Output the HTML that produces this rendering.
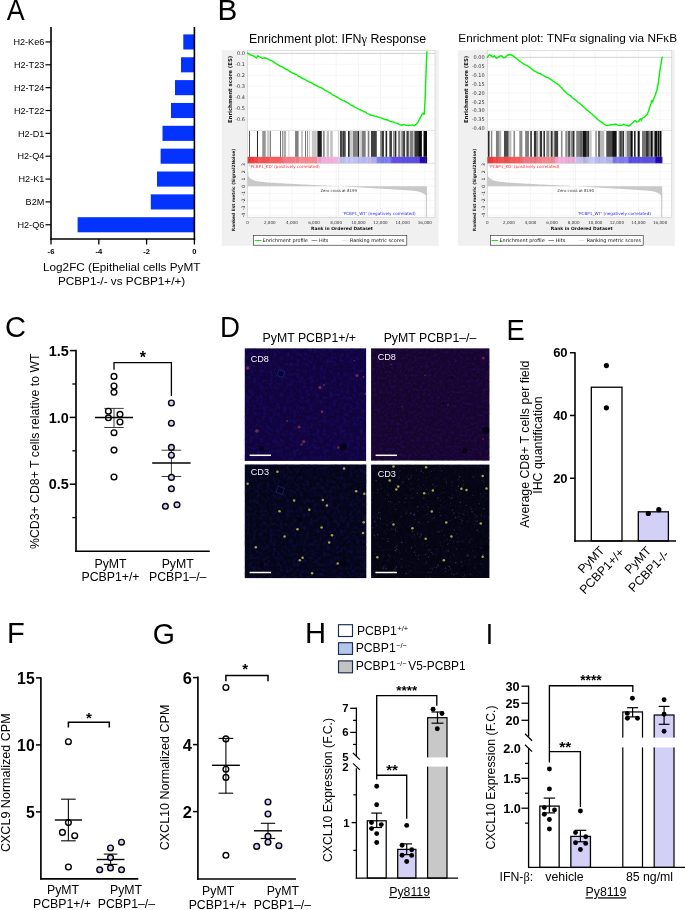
<!DOCTYPE html>
<html lang="en"><head><meta charset="utf-8"><title>Figure</title>
<style>html,body{margin:0;padding:0;background:#fff}svg{display:block}text{font-family:"Liberation Sans", Arial, Helvetica, sans-serif}</style></head><body>
<svg width="685" height="910" viewBox="0 0 685 910">
<rect x="0.00" y="0.00" width="685.00" height="910.00" fill="#fff" stroke="none" stroke-width="1" />
<text transform="translate(6.85,20.40) scale(0.913,1)" font-size="29.4">A</text>
<text transform="translate(217.46,20.20) scale(1.01,1)" font-size="29.4">B</text>
<text transform="translate(4.92,337.40) scale(0.989,1)" font-size="29.4">C</text>
<text transform="translate(219.93,337.00) scale(0.942,1)" font-size="29.4">D</text>
<text transform="translate(506.56,340.40) scale(0.929,1)" font-size="29.4">E</text>
<text transform="translate(6.96,643.30) scale(0.991,1)" font-size="29.4">F</text>
<text transform="translate(152.68,643.50) scale(0.969,1)" font-size="29.4">G</text>
<text transform="translate(304.91,643.30) scale(0.992,1)" font-size="29.4">H</text>
<text transform="translate(485.85,643.60) scale(0.905,1)" font-size="29.4">I</text>
<rect x="183.30" y="34.40" width="11.10" height="15.10" fill="#0433ff" stroke="none" stroke-width="1" />
<line x1="45.50" y1="41.95" x2="51.00" y2="41.95" stroke="#000" stroke-width="1.2" />
<text x="44.30" y="45.15" font-size="9.1" text-anchor="end" font-weight="normal" fill="#000" >H2-Ke6</text>
<rect x="181.00" y="57.25" width="13.40" height="15.10" fill="#0433ff" stroke="none" stroke-width="1" />
<line x1="45.50" y1="64.80" x2="51.00" y2="64.80" stroke="#000" stroke-width="1.2" />
<text x="44.30" y="68.00" font-size="9.1" text-anchor="end" font-weight="normal" fill="#000" >H2-T23</text>
<rect x="175.00" y="80.10" width="19.40" height="15.10" fill="#0433ff" stroke="none" stroke-width="1" />
<line x1="45.50" y1="87.65" x2="51.00" y2="87.65" stroke="#000" stroke-width="1.2" />
<text x="44.30" y="90.85" font-size="9.1" text-anchor="end" font-weight="normal" fill="#000" >H2-T24</text>
<rect x="171.00" y="102.95" width="23.40" height="15.10" fill="#0433ff" stroke="none" stroke-width="1" />
<line x1="45.50" y1="110.50" x2="51.00" y2="110.50" stroke="#000" stroke-width="1.2" />
<text x="44.30" y="113.70" font-size="9.1" text-anchor="end" font-weight="normal" fill="#000" >H2-T22</text>
<rect x="162.50" y="125.80" width="31.90" height="15.10" fill="#0433ff" stroke="none" stroke-width="1" />
<line x1="45.50" y1="133.35" x2="51.00" y2="133.35" stroke="#000" stroke-width="1.2" />
<text x="44.30" y="136.55" font-size="9.1" text-anchor="end" font-weight="normal" fill="#000" >H2-D1</text>
<rect x="160.60" y="148.65" width="33.80" height="15.10" fill="#0433ff" stroke="none" stroke-width="1" />
<line x1="45.50" y1="156.20" x2="51.00" y2="156.20" stroke="#000" stroke-width="1.2" />
<text x="44.30" y="159.40" font-size="9.1" text-anchor="end" font-weight="normal" fill="#000" >H2-Q4</text>
<rect x="157.00" y="171.50" width="37.40" height="15.10" fill="#0433ff" stroke="none" stroke-width="1" />
<line x1="45.50" y1="179.05" x2="51.00" y2="179.05" stroke="#000" stroke-width="1.2" />
<text x="44.30" y="182.25" font-size="9.1" text-anchor="end" font-weight="normal" fill="#000" >H2-K1</text>
<rect x="150.80" y="194.35" width="43.60" height="15.10" fill="#0433ff" stroke="none" stroke-width="1" />
<line x1="45.50" y1="201.90" x2="51.00" y2="201.90" stroke="#000" stroke-width="1.2" />
<text x="44.30" y="205.10" font-size="9.1" text-anchor="end" font-weight="normal" fill="#000" >B2M</text>
<rect x="77.60" y="217.20" width="116.80" height="15.10" fill="#0433ff" stroke="none" stroke-width="1" />
<line x1="45.50" y1="224.75" x2="51.00" y2="224.75" stroke="#000" stroke-width="1.2" />
<text x="44.30" y="227.95" font-size="9.1" text-anchor="end" font-weight="normal" fill="#000" >H2-Q6</text>
<line x1="51.00" y1="27.00" x2="51.00" y2="239.70" stroke="#000" stroke-width="1.6" />
<line x1="194.40" y1="27.00" x2="194.40" y2="239.70" stroke="#000" stroke-width="1.6" />
<line x1="50.20" y1="239.00" x2="195.20" y2="239.00" stroke="#000" stroke-width="1.6" />
<line x1="51.00" y1="239.00" x2="51.00" y2="244.50" stroke="#000" stroke-width="1.3" />
<text x="51.00" y="253.80" font-size="7.6" text-anchor="middle" font-weight="bold" fill="#000" >-6</text>
<line x1="98.80" y1="239.00" x2="98.80" y2="244.50" stroke="#000" stroke-width="1.3" />
<text x="98.80" y="253.80" font-size="7.6" text-anchor="middle" font-weight="bold" fill="#000" >-4</text>
<line x1="146.60" y1="239.00" x2="146.60" y2="244.50" stroke="#000" stroke-width="1.3" />
<text x="146.60" y="253.80" font-size="7.6" text-anchor="middle" font-weight="bold" fill="#000" >-2</text>
<line x1="194.40" y1="239.00" x2="194.40" y2="244.50" stroke="#000" stroke-width="1.3" />
<text x="194.40" y="253.80" font-size="7.6" text-anchor="middle" font-weight="bold" fill="#000" >0</text>
<text x="121.70" y="271.20" font-size="11.75" text-anchor="middle" font-weight="normal" fill="#000" >Log2FC (Epithelial cells PyMT</text>
<text x="121.60" y="284.80" font-size="11.75" text-anchor="middle" font-weight="normal" fill="#000" >PCBP1-/- vs PCBP1+/+)</text>
<text x="249.00" y="43.00" font-size="12.35" text-anchor="start" font-weight="normal" fill="#000" >Enrichment plot: IFN<tspan style='font-family:"Liberation Serif","DejaVu Serif",serif'>γ</tspan> Response</text>
<rect x="221.80" y="50.20" width="216.80" height="195.60" fill="#f0f0f0" stroke="none" stroke-width="1" />
<rect x="247.60" y="50.40" width="187.40" height="166.80" fill="#fff" stroke="#c4c4c4" stroke-width="0.5" />
<line x1="247.60" y1="50.40" x2="247.60" y2="130.40" stroke="#d6d6d6" stroke-width="0.4" stroke-dasharray="0.8 0.8"/>
<line x1="247.60" y1="163.40" x2="247.60" y2="217.20" stroke="#d6d6d6" stroke-width="0.4" stroke-dasharray="0.8 0.8"/>
<line x1="269.75" y1="50.40" x2="269.75" y2="130.40" stroke="#d6d6d6" stroke-width="0.4" stroke-dasharray="0.8 0.8"/>
<line x1="269.75" y1="163.40" x2="269.75" y2="217.20" stroke="#d6d6d6" stroke-width="0.4" stroke-dasharray="0.8 0.8"/>
<line x1="291.90" y1="50.40" x2="291.90" y2="130.40" stroke="#d6d6d6" stroke-width="0.4" stroke-dasharray="0.8 0.8"/>
<line x1="291.90" y1="163.40" x2="291.90" y2="217.20" stroke="#d6d6d6" stroke-width="0.4" stroke-dasharray="0.8 0.8"/>
<line x1="314.05" y1="50.40" x2="314.05" y2="130.40" stroke="#d6d6d6" stroke-width="0.4" stroke-dasharray="0.8 0.8"/>
<line x1="314.05" y1="163.40" x2="314.05" y2="217.20" stroke="#d6d6d6" stroke-width="0.4" stroke-dasharray="0.8 0.8"/>
<line x1="336.20" y1="50.40" x2="336.20" y2="130.40" stroke="#d6d6d6" stroke-width="0.4" stroke-dasharray="0.8 0.8"/>
<line x1="336.20" y1="163.40" x2="336.20" y2="217.20" stroke="#d6d6d6" stroke-width="0.4" stroke-dasharray="0.8 0.8"/>
<line x1="358.35" y1="50.40" x2="358.35" y2="130.40" stroke="#d6d6d6" stroke-width="0.4" stroke-dasharray="0.8 0.8"/>
<line x1="358.35" y1="163.40" x2="358.35" y2="217.20" stroke="#d6d6d6" stroke-width="0.4" stroke-dasharray="0.8 0.8"/>
<line x1="380.50" y1="50.40" x2="380.50" y2="130.40" stroke="#d6d6d6" stroke-width="0.4" stroke-dasharray="0.8 0.8"/>
<line x1="380.50" y1="163.40" x2="380.50" y2="217.20" stroke="#d6d6d6" stroke-width="0.4" stroke-dasharray="0.8 0.8"/>
<line x1="402.65" y1="50.40" x2="402.65" y2="130.40" stroke="#d6d6d6" stroke-width="0.4" stroke-dasharray="0.8 0.8"/>
<line x1="402.65" y1="163.40" x2="402.65" y2="217.20" stroke="#d6d6d6" stroke-width="0.4" stroke-dasharray="0.8 0.8"/>
<line x1="424.80" y1="50.40" x2="424.80" y2="130.40" stroke="#d6d6d6" stroke-width="0.4" stroke-dasharray="0.8 0.8"/>
<line x1="424.80" y1="163.40" x2="424.80" y2="217.20" stroke="#d6d6d6" stroke-width="0.4" stroke-dasharray="0.8 0.8"/>
<line x1="247.60" y1="53.40" x2="435.00" y2="53.40" stroke="#b0b0b0" stroke-width="0.6" />
<text x="245.00" y="55.10" font-size="5.0" text-anchor="end" font-weight="normal" fill="#333" style='font-family:"DejaVu Sans", "Liberation Sans", sans-serif' >0.0</text>
<line x1="247.60" y1="64.35" x2="435.00" y2="64.35" stroke="#d6d6d6" stroke-width="0.4" stroke-dasharray="0.8 0.8"/>
<text x="245.00" y="66.05" font-size="5.0" text-anchor="end" font-weight="normal" fill="#333" style='font-family:"DejaVu Sans", "Liberation Sans", sans-serif' >-0.1</text>
<line x1="247.60" y1="75.30" x2="435.00" y2="75.30" stroke="#d6d6d6" stroke-width="0.4" stroke-dasharray="0.8 0.8"/>
<text x="245.00" y="77.00" font-size="5.0" text-anchor="end" font-weight="normal" fill="#333" style='font-family:"DejaVu Sans", "Liberation Sans", sans-serif' >-0.2</text>
<line x1="247.60" y1="86.25" x2="435.00" y2="86.25" stroke="#d6d6d6" stroke-width="0.4" stroke-dasharray="0.8 0.8"/>
<text x="245.00" y="87.95" font-size="5.0" text-anchor="end" font-weight="normal" fill="#333" style='font-family:"DejaVu Sans", "Liberation Sans", sans-serif' >-0.3</text>
<line x1="247.60" y1="97.20" x2="435.00" y2="97.20" stroke="#d6d6d6" stroke-width="0.4" stroke-dasharray="0.8 0.8"/>
<text x="245.00" y="98.90" font-size="5.0" text-anchor="end" font-weight="normal" fill="#333" style='font-family:"DejaVu Sans", "Liberation Sans", sans-serif' >-0.4</text>
<line x1="247.60" y1="108.15" x2="435.00" y2="108.15" stroke="#d6d6d6" stroke-width="0.4" stroke-dasharray="0.8 0.8"/>
<text x="245.00" y="109.85" font-size="5.0" text-anchor="end" font-weight="normal" fill="#333" style='font-family:"DejaVu Sans", "Liberation Sans", sans-serif' >-0.5</text>
<line x1="247.60" y1="119.10" x2="435.00" y2="119.10" stroke="#d6d6d6" stroke-width="0.4" stroke-dasharray="0.8 0.8"/>
<text x="245.00" y="120.80" font-size="5.0" text-anchor="end" font-weight="normal" fill="#333" style='font-family:"DejaVu Sans", "Liberation Sans", sans-serif' >-0.6</text>
<text transform="translate(232.30,89.40) rotate(-90)" font-size="5.4" text-anchor="middle" fill="#111" font-weight="bold" style='font-family:"DejaVu Sans", "Liberation Sans", sans-serif'>Enrichment score (ES)</text>
<line x1="247.60" y1="130.40" x2="435.00" y2="130.40" stroke="#c4c4c4" stroke-width="0.5" />
<g>
<rect x="247.60" y="156.80" width="6.40" height="6.60" fill="#ee3c3c" stroke="none" stroke-width="1" />
<rect x="253.80" y="156.80" width="4.50" height="6.60" fill="#f24a4a" stroke="none" stroke-width="1" />
<rect x="258.10" y="156.80" width="12.60" height="6.60" fill="#f65555" stroke="none" stroke-width="1" />
<rect x="270.50" y="156.80" width="9.70" height="6.60" fill="#f85c5c" stroke="none" stroke-width="1" />
<rect x="280.00" y="156.80" width="3.90" height="6.60" fill="#f76c6c" stroke="none" stroke-width="1" />
<rect x="283.70" y="156.80" width="11.90" height="6.60" fill="#f87a8a" stroke="none" stroke-width="1" />
<rect x="295.40" y="156.80" width="3.80" height="6.60" fill="#f5828a" stroke="none" stroke-width="1" />
<rect x="299.00" y="156.80" width="18.50" height="6.60" fill="#f98c92" stroke="none" stroke-width="1" />
<rect x="317.30" y="156.80" width="21.30" height="6.60" fill="#f5b2de" stroke="none" stroke-width="1" />
<rect x="338.40" y="156.80" width="19.80" height="6.60" fill="#cacafb" stroke="none" stroke-width="1" />
<rect x="358.00" y="156.80" width="18.70" height="6.60" fill="#bebef9" stroke="none" stroke-width="1" />
<rect x="376.50" y="156.80" width="14.80" height="6.60" fill="#8282f8" stroke="none" stroke-width="1" />
<rect x="391.10" y="156.80" width="28.70" height="6.60" fill="#6152ee" stroke="none" stroke-width="1" />
<rect x="419.60" y="156.80" width="6.20" height="6.60" fill="#2a04c2" stroke="none" stroke-width="1" />
<rect x="425.60" y="156.80" width="1.50" height="6.60" fill="#1a0080" stroke="none" stroke-width="1" />
</g>
<g fill="#000">
<rect x="249.09" y="131.00" width="0.73" height="25.80" fill-opacity="0.9"/>
<rect x="249.09" y="156.80" width="0.73" height="6.60" fill-opacity="0.081"/>
<rect x="256.97" y="131.00" width="1.02" height="25.80" fill-opacity="0.85"/>
<rect x="256.97" y="156.80" width="1.02" height="6.60" fill-opacity="0.076"/>
<rect x="262.23" y="131.00" width="3.50" height="25.80" fill-opacity="0.42"/>
<rect x="262.23" y="156.80" width="3.50" height="6.60" fill-opacity="0.038"/>
<rect x="266.90" y="131.00" width="2.92" height="25.80" fill-opacity="0.2"/>
<rect x="266.90" y="156.80" width="2.92" height="6.60" fill-opacity="0.018"/>
<rect x="270.26" y="131.00" width="0.73" height="25.80" fill-opacity="0.7"/>
<rect x="270.26" y="156.80" width="0.73" height="6.60" fill-opacity="0.063"/>
<rect x="280.18" y="131.00" width="0.73" height="25.80" fill-opacity="0.8"/>
<rect x="280.18" y="156.80" width="0.73" height="6.60" fill-opacity="0.072"/>
<rect x="282.08" y="131.00" width="1.31" height="25.80" fill-opacity="0.45"/>
<rect x="282.08" y="156.80" width="1.31" height="6.60" fill-opacity="0.041"/>
<rect x="284.27" y="131.00" width="1.46" height="25.80" fill-opacity="0.45"/>
<rect x="284.27" y="156.80" width="1.46" height="6.60" fill-opacity="0.041"/>
<rect x="288.50" y="131.00" width="0.73" height="25.80" fill-opacity="0.25"/>
<rect x="288.50" y="156.80" width="0.73" height="6.60" fill-opacity="0.022"/>
<rect x="295.07" y="131.00" width="3.50" height="25.80" fill-opacity="0.5"/>
<rect x="295.07" y="156.80" width="3.50" height="6.60" fill-opacity="0.045"/>
<rect x="301.06" y="131.00" width="1.75" height="25.80" fill-opacity="0.25"/>
<rect x="301.06" y="156.80" width="1.75" height="6.60" fill-opacity="0.022"/>
<rect x="305.29" y="131.00" width="0.73" height="25.80" fill-opacity="0.75"/>
<rect x="305.29" y="156.80" width="0.73" height="6.60" fill-opacity="0.068"/>
<rect x="307.19" y="131.00" width="0.73" height="25.80" fill-opacity="0.6"/>
<rect x="307.19" y="156.80" width="0.73" height="6.60" fill-opacity="0.054"/>
<rect x="308.94" y="131.00" width="0.73" height="25.80" fill-opacity="0.3"/>
<rect x="308.94" y="156.80" width="0.73" height="6.60" fill-opacity="0.027"/>
<rect x="311.86" y="131.00" width="4.96" height="25.80" fill-opacity="0.22"/>
<rect x="311.86" y="156.80" width="4.96" height="6.60" fill-opacity="0.020"/>
<rect x="317.41" y="131.00" width="4.38" height="25.80" fill-opacity="0.88"/>
<rect x="317.41" y="156.80" width="4.38" height="6.60" fill-opacity="0.079"/>
<rect x="322.96" y="131.00" width="1.75" height="25.80" fill-opacity="0.45"/>
<rect x="322.96" y="156.80" width="1.75" height="6.60" fill-opacity="0.041"/>
<rect x="326.61" y="131.00" width="2.48" height="25.80" fill-opacity="0.25"/>
<rect x="326.61" y="156.80" width="2.48" height="6.60" fill-opacity="0.022"/>
<rect x="330.26" y="131.00" width="2.48" height="25.80" fill-opacity="0.25"/>
<rect x="330.26" y="156.80" width="2.48" height="6.60" fill-opacity="0.022"/>
<rect x="337.99" y="131.00" width="0.73" height="25.80" fill-opacity="0.25"/>
<rect x="337.99" y="156.80" width="0.73" height="6.60" fill-opacity="0.022"/>
<rect x="339.89" y="131.00" width="2.34" height="25.80" fill-opacity="0.45"/>
<rect x="339.89" y="156.80" width="2.34" height="6.60" fill-opacity="0.041"/>
<rect x="343.10" y="131.00" width="2.63" height="25.80" fill-opacity="0.7"/>
<rect x="343.10" y="156.80" width="2.63" height="6.60" fill-opacity="0.063"/>
<rect x="340.00" y="131.00" width="3.80" height="25.80" fill-opacity="0.5"/>
<rect x="340.00" y="156.80" width="3.80" height="6.60" fill-opacity="0.045"/>
<rect x="348.03" y="131.00" width="1.61" height="25.80" fill-opacity="0.85"/>
<rect x="348.03" y="156.80" width="1.61" height="6.60" fill-opacity="0.076"/>
<rect x="349.64" y="131.00" width="2.92" height="25.80" fill-opacity="0.2"/>
<rect x="349.64" y="156.80" width="2.92" height="6.60" fill-opacity="0.018"/>
<rect x="352.85" y="131.00" width="4.09" height="25.80" fill-opacity="0.5"/>
<rect x="352.85" y="156.80" width="4.09" height="6.60" fill-opacity="0.045"/>
<rect x="357.37" y="131.00" width="1.75" height="25.80" fill-opacity="0.85"/>
<rect x="357.37" y="156.80" width="1.75" height="6.60" fill-opacity="0.076"/>
<rect x="359.71" y="131.00" width="2.19" height="25.80" fill-opacity="0.18"/>
<rect x="359.71" y="156.80" width="2.19" height="6.60" fill-opacity="0.016"/>
<rect x="361.90" y="131.00" width="3.80" height="25.80" fill-opacity="0.5"/>
<rect x="361.90" y="156.80" width="3.80" height="6.60" fill-opacity="0.045"/>
<rect x="367.74" y="131.00" width="1.61" height="25.80" fill-opacity="0.5"/>
<rect x="367.74" y="156.80" width="1.61" height="6.60" fill-opacity="0.045"/>
<rect x="370.95" y="131.00" width="5.84" height="25.80" fill-opacity="0.75"/>
<rect x="370.95" y="156.80" width="5.84" height="6.60" fill-opacity="0.068"/>
<rect x="380.15" y="131.00" width="1.90" height="25.80" fill-opacity="0.5"/>
<rect x="380.15" y="156.80" width="1.90" height="6.60" fill-opacity="0.045"/>
<rect x="382.04" y="131.00" width="1.90" height="25.80" fill-opacity="0.8"/>
<rect x="382.04" y="156.80" width="1.90" height="6.60" fill-opacity="0.072"/>
<rect x="385.55" y="131.00" width="1.61" height="25.80" fill-opacity="0.85"/>
<rect x="385.55" y="156.80" width="1.61" height="6.60" fill-opacity="0.076"/>
<rect x="389.34" y="131.00" width="2.63" height="25.80" fill-opacity="0.75"/>
<rect x="389.34" y="156.80" width="2.63" height="6.60" fill-opacity="0.068"/>
<rect x="393.14" y="131.00" width="1.31" height="25.80" fill-opacity="0.5"/>
<rect x="393.14" y="156.80" width="1.31" height="6.60" fill-opacity="0.045"/>
<rect x="394.74" y="131.00" width="1.61" height="25.80" fill-opacity="0.85"/>
<rect x="394.74" y="156.80" width="1.61" height="6.60" fill-opacity="0.076"/>
<rect x="398.10" y="131.00" width="2.19" height="25.80" fill-opacity="0.5"/>
<rect x="398.10" y="156.80" width="2.19" height="6.60" fill-opacity="0.045"/>
<rect x="401.31" y="131.00" width="1.75" height="25.80" fill-opacity="0.5"/>
<rect x="401.31" y="156.80" width="1.75" height="6.60" fill-opacity="0.045"/>
<rect x="403.07" y="131.00" width="2.04" height="25.80" fill-opacity="0.75"/>
<rect x="403.07" y="156.80" width="2.04" height="6.60" fill-opacity="0.068"/>
<rect x="406.42" y="131.00" width="2.34" height="25.80" fill-opacity="0.75"/>
<rect x="406.42" y="156.80" width="2.34" height="6.60" fill-opacity="0.068"/>
<rect x="408.91" y="131.00" width="1.17" height="25.80" fill-opacity="0.2"/>
<rect x="408.91" y="156.80" width="1.17" height="6.60" fill-opacity="0.018"/>
<rect x="410.07" y="131.00" width="3.07" height="25.80" fill-opacity="0.5"/>
<rect x="410.07" y="156.80" width="3.07" height="6.60" fill-opacity="0.045"/>
<rect x="413.28" y="131.00" width="1.17" height="25.80" fill-opacity="0.25"/>
<rect x="413.28" y="156.80" width="1.17" height="6.60" fill-opacity="0.022"/>
<rect x="414.45" y="131.00" width="3.65" height="25.80" fill-opacity="0.8"/>
<rect x="414.45" y="156.80" width="3.65" height="6.60" fill-opacity="0.072"/>
<rect x="418.10" y="131.00" width="3.80" height="25.80" fill-opacity="0.95"/>
<rect x="418.10" y="156.80" width="3.80" height="6.60" fill-opacity="0.085"/>
<rect x="423.50" y="131.00" width="3.50" height="25.80" fill-opacity="0.97"/>
<rect x="423.50" y="156.80" width="3.50" height="6.60" fill-opacity="0.087"/>
</g>
<line x1="247.60" y1="163.40" x2="435.00" y2="163.40" stroke="#c4c4c4" stroke-width="0.5" />
<text transform="translate(245.20,164.45) rotate(-90)" font-size="4.5" text-anchor="middle" fill="#222" style='font-family:"DejaVu Sans", "Liberation Sans", sans-serif'>3</text>
<line x1="247.60" y1="171.70" x2="435.00" y2="171.70" stroke="#d6d6d6" stroke-width="0.4" stroke-dasharray="0.8 0.8"/>
<text transform="translate(245.20,171.70) rotate(-90)" font-size="4.5" text-anchor="middle" fill="#222" style='font-family:"DejaVu Sans", "Liberation Sans", sans-serif'>2</text>
<line x1="247.60" y1="178.95" x2="435.00" y2="178.95" stroke="#d6d6d6" stroke-width="0.4" stroke-dasharray="0.8 0.8"/>
<text transform="translate(245.20,178.95) rotate(-90)" font-size="4.5" text-anchor="middle" fill="#222" style='font-family:"DejaVu Sans", "Liberation Sans", sans-serif'>1</text>
<line x1="247.60" y1="186.20" x2="435.00" y2="186.20" stroke="#d6d6d6" stroke-width="0.4" stroke-dasharray="0.8 0.8"/>
<text transform="translate(245.20,186.20) rotate(-90)" font-size="4.5" text-anchor="middle" fill="#222" style='font-family:"DejaVu Sans", "Liberation Sans", sans-serif'>0</text>
<line x1="247.60" y1="193.45" x2="435.00" y2="193.45" stroke="#d6d6d6" stroke-width="0.4" stroke-dasharray="0.8 0.8"/>
<text transform="translate(245.20,193.45) rotate(-90)" font-size="4.5" text-anchor="middle" fill="#222" style='font-family:"DejaVu Sans", "Liberation Sans", sans-serif'>-1</text>
<line x1="247.60" y1="200.70" x2="435.00" y2="200.70" stroke="#d6d6d6" stroke-width="0.4" stroke-dasharray="0.8 0.8"/>
<text transform="translate(245.20,200.70) rotate(-90)" font-size="4.5" text-anchor="middle" fill="#222" style='font-family:"DejaVu Sans", "Liberation Sans", sans-serif'>-2</text>
<line x1="247.60" y1="207.95" x2="435.00" y2="207.95" stroke="#d6d6d6" stroke-width="0.4" stroke-dasharray="0.8 0.8"/>
<text transform="translate(245.20,207.95) rotate(-90)" font-size="4.5" text-anchor="middle" fill="#222" style='font-family:"DejaVu Sans", "Liberation Sans", sans-serif'>-3</text>
<line x1="247.60" y1="215.20" x2="435.00" y2="215.20" stroke="#d6d6d6" stroke-width="0.4" stroke-dasharray="0.8 0.8"/>
<text transform="translate(245.20,215.20) rotate(-90)" font-size="4.5" text-anchor="middle" fill="#222" style='font-family:"DejaVu Sans", "Liberation Sans", sans-serif'>-4</text>
<path d="M247.60,186.20 L247.60,175.32 L247.66,175.41 L247.80,175.62 L248.01,175.93 L248.30,176.31 L248.64,176.73 L249.04,177.19 L249.51,177.65 L250.02,178.12 L250.60,178.57 L251.22,179.00 L251.90,179.40 L252.63,179.77 L253.41,180.11 L254.24,180.41 L255.11,180.68 L256.04,180.92 L257.01,181.14 L258.03,181.33 L259.10,181.50 L260.21,181.66 L261.37,181.81 L262.57,181.94 L263.82,182.07 L265.11,182.19 L266.44,182.30 L267.82,182.41 L269.24,182.52 L270.71,182.63 L272.21,182.73 L273.76,182.84 L275.35,182.94 L276.98,183.04 L278.66,183.14 L280.37,183.25 L282.13,183.35 L283.92,183.45 L285.76,183.55 L287.64,183.66 L289.55,183.76 L291.51,183.87 L293.50,183.97 L295.54,184.08 L297.61,184.18 L299.73,184.29 L301.88,184.40 L304.07,184.51 L306.30,184.62 L308.56,184.73 L310.87,184.85 L313.21,184.96 L315.59,185.08 L318.01,185.20 L320.47,185.32 L322.96,185.44 L325.49,185.56 L328.06,185.68 L330.67,185.81 L333.31,185.94 L335.99,186.07 L338.70,186.20 L340.84,186.33 L342.95,186.45 L345.04,186.58 L347.09,186.70 L349.12,186.82 L351.12,186.94 L353.09,187.05 L355.03,187.17 L356.95,187.28 L358.83,187.39 L360.69,187.50 L362.52,187.61 L364.32,187.72 L366.10,187.82 L367.84,187.92 L369.56,188.03 L371.25,188.13 L372.92,188.23 L374.55,188.32 L376.16,188.42 L377.74,188.51 L379.29,188.60 L380.82,188.69 L382.32,188.78 L383.79,188.87 L385.24,188.95 L386.66,189.04 L388.05,189.12 L389.41,189.20 L390.75,189.28 L392.07,189.36 L393.35,189.43 L394.61,189.51 L395.84,189.58 L397.05,189.65 L398.23,189.73 L399.39,189.79 L400.52,189.86 L401.62,189.93 L402.70,190.00 L403.75,190.06 L404.78,190.13 L405.78,190.19 L406.75,190.26 L407.70,190.32 L408.63,190.39 L409.53,190.46 L410.41,190.52 L411.26,190.60 L412.09,190.67 L412.89,190.75 L413.67,190.83 L414.42,190.92 L415.15,191.02 L415.86,191.12 L416.54,191.22 L417.20,191.34 L417.83,191.46 L418.44,191.60 L419.03,191.74 L419.60,191.89 L420.14,192.05 L420.66,192.22 L421.16,192.40 L421.63,192.59 L422.08,192.79 L422.52,192.99 L422.92,193.20 L423.31,193.42 L423.68,193.64 L424.02,193.86 L424.34,194.09 L424.65,194.31 L424.93,194.53 L425.19,194.76 L425.43,194.98 L425.65,195.23 L425.85,195.52 L426.03,195.93 L426.20,196.54 L426.34,197.47 L426.47,198.88 L426.58,200.86 L426.67,203.43 L426.75,206.46 L426.81,209.67 L426.85,212.64 L426.88,214.98 L426.90,216.39 L426.90,216.79 L426.90,186.20 Z" fill="#c8c8c8"/>
<rect x="425.90" y="192.72" width="1.00" height="24.47" fill="#c8c8c8" stroke="none" stroke-width="1" />
<rect x="247.60" y="172.42" width="0.80" height="13.78" fill="#c8c8c8" stroke="none" stroke-width="1" />
<line x1="338.70" y1="163.40" x2="338.70" y2="217.20" stroke="#bbb" stroke-width="0.4" stroke-dasharray="1 1"/>
<text x="249.30" y="167.90" font-size="4.15" text-anchor="start" font-weight="normal" fill="#ff2a2a" style='font-family:"DejaVu Sans", "Liberation Sans", sans-serif' >'PCBP1_KD' (positively correlated)</text>
<text x="415.60" y="214.90" font-size="4.15" text-anchor="end" font-weight="normal" fill="#2a2aff" style='font-family:"DejaVu Sans", "Liberation Sans", sans-serif' >'PCBP1_WT' (negatively correlated)</text>
<text x="338.70" y="191.90" font-size="3.9" text-anchor="middle" font-weight="normal" fill="#333" style='font-family:"DejaVu Sans", "Liberation Sans", sans-serif' >Zero cross at 8199</text>
<text x="247.60" y="223.60" font-size="4.1" text-anchor="middle" font-weight="normal" fill="#333" style='font-family:"DejaVu Sans", "Liberation Sans", sans-serif' >0</text>
<text x="269.75" y="223.60" font-size="4.1" text-anchor="middle" font-weight="normal" fill="#333" style='font-family:"DejaVu Sans", "Liberation Sans", sans-serif' >2,000</text>
<text x="291.90" y="223.60" font-size="4.1" text-anchor="middle" font-weight="normal" fill="#333" style='font-family:"DejaVu Sans", "Liberation Sans", sans-serif' >4,000</text>
<text x="314.05" y="223.60" font-size="4.1" text-anchor="middle" font-weight="normal" fill="#333" style='font-family:"DejaVu Sans", "Liberation Sans", sans-serif' >6,000</text>
<text x="336.20" y="223.60" font-size="4.1" text-anchor="middle" font-weight="normal" fill="#333" style='font-family:"DejaVu Sans", "Liberation Sans", sans-serif' >8,000</text>
<text x="358.35" y="223.60" font-size="4.1" text-anchor="middle" font-weight="normal" fill="#333" style='font-family:"DejaVu Sans", "Liberation Sans", sans-serif' >10,000</text>
<text x="380.50" y="223.60" font-size="4.1" text-anchor="middle" font-weight="normal" fill="#333" style='font-family:"DejaVu Sans", "Liberation Sans", sans-serif' >12,000</text>
<text x="402.65" y="223.60" font-size="4.1" text-anchor="middle" font-weight="normal" fill="#333" style='font-family:"DejaVu Sans", "Liberation Sans", sans-serif' >14,000</text>
<text x="424.80" y="223.60" font-size="4.1" text-anchor="middle" font-weight="normal" fill="#333" style='font-family:"DejaVu Sans", "Liberation Sans", sans-serif' >16,000</text>
<text x="342.00" y="230.10" font-size="4.44" text-anchor="middle" font-weight="bold" fill="#111" style='font-family:"DejaVu Sans", "Liberation Sans", sans-serif' >Rank in Ordered Dataset</text>
<text transform="translate(235.00,190.00) rotate(-90)" font-size="4.36" text-anchor="middle" fill="#111" font-weight="bold" style='font-family:"DejaVu Sans", "Liberation Sans", sans-serif'>Ranked list metric (Signal2Noise)</text>
<rect x="253.50" y="235.40" width="153.30" height="9.80" fill="#fff" stroke="#222" stroke-width="0.6" />
<line x1="254.70" y1="240.50" x2="261.30" y2="240.50" stroke="#00e000" stroke-width="0.9" />
<text x="262.70" y="242.20" font-size="4.9" text-anchor="start" font-weight="normal" fill="#111" style='font-family:"DejaVu Sans", "Liberation Sans", sans-serif' >Enrichment profile</text>
<line x1="311.60" y1="240.50" x2="317.20" y2="240.50" stroke="#222" stroke-width="0.5" />
<text x="318.90" y="242.20" font-size="4.9" text-anchor="start" font-weight="normal" fill="#111" style='font-family:"DejaVu Sans", "Liberation Sans", sans-serif' >Hits</text>
<line x1="342.00" y1="240.50" x2="347.80" y2="240.50" stroke="#ccc" stroke-width="0.5" />
<text x="349.90" y="242.20" font-size="4.9" text-anchor="start" font-weight="normal" fill="#111" style='font-family:"DejaVu Sans", "Liberation Sans", sans-serif' >Ranking metric scores</text>
<path d="M247.60,53.18 L250.00,54.71 L252.00,55.33 L254.00,56.09 L256.60,57.99 L257.80,55.80 L260.00,56.99 L262.30,58.37 L264.90,57.74 L268.00,59.13 L271.10,60.53 L272.84,61.34 L274.58,62.64 L276.32,63.78 L278.06,64.90 L279.80,66.01 L281.38,66.39 L282.96,67.28 L284.54,68.50 L286.12,69.27 L287.70,69.89 L289.28,71.10 L290.86,72.12 L292.44,72.98 L294.02,73.42 L295.60,74.36 L297.10,74.96 L298.60,76.45 L300.10,76.73 L301.60,77.89 L303.10,78.56 L304.60,79.41 L306.10,80.17 L307.60,81.19 L309.10,81.83 L310.60,82.43 L312.10,83.11 L313.60,84.17 L315.10,85.29 L316.60,85.55 L318.30,86.63 L320.00,87.29 L321.59,87.89 L323.18,88.85 L324.77,90.11 L326.36,90.86 L327.95,91.77 L329.55,92.75 L331.14,93.41 L332.73,94.76 L334.32,95.61 L335.91,96.50 L337.50,97.29 L339.09,98.50 L340.68,99.39 L342.27,100.08 L343.86,100.64 L345.45,101.56 L347.05,102.45 L348.64,103.28 L350.23,104.56 L351.82,105.37 L353.41,106.01 L355.00,107.39 L356.47,107.92 L357.93,108.75 L359.40,109.50 L360.87,110.13 L362.33,110.74 L363.80,111.79 L365.27,111.92 L366.73,113.03 L368.20,113.89 L369.67,114.33 L371.13,115.30 L372.60,115.58 L374.30,115.99 L376.00,116.14 L377.76,116.83 L379.52,117.64 L381.29,117.85 L383.05,118.59 L384.81,119.54 L386.58,119.76 L388.34,120.24 L390.10,121.45 L391.73,121.70 L393.36,121.91 L394.99,122.86 L396.61,123.14 L398.24,123.72 L399.87,124.70 L401.50,125.21 L404.00,124.55 L406.00,125.11 L408.00,125.64 L411.00,125.17 L412.80,125.07 L414.60,125.69 L416.35,123.94 L418.10,121.95 L419.27,119.60 L420.43,117.41 L421.60,114.98 L422.80,113.14 L424.20,114.36 L424.65,107.38 L425.10,99.86 L425.33,93.30 L425.55,87.15 L425.77,80.70 L426.00,73.96 L426.30,66.26 L426.60,58.69 L426.90,51.60" fill="none" stroke="#00f400" stroke-width="1.4" stroke-linejoin="round" stroke-linecap="round"/>
<text x="458.30" y="42.00" font-size="11.82" text-anchor="start" font-weight="normal" fill="#000" >Enrichment plot: TNF<tspan style='font-family:"Liberation Serif","DejaVu Serif",serif'>α</tspan> signaling via NF<tspan style='font-family:"Liberation Serif","DejaVu Serif",serif'>κ</tspan>B</text>
<rect x="457.90" y="50.20" width="216.90" height="195.60" fill="#f0f0f0" stroke="none" stroke-width="1" />
<rect x="487.30" y="50.40" width="184.50" height="166.80" fill="#fff" stroke="#c4c4c4" stroke-width="0.5" />
<line x1="487.30" y1="50.40" x2="487.30" y2="130.40" stroke="#d6d6d6" stroke-width="0.4" stroke-dasharray="0.8 0.8"/>
<line x1="487.30" y1="163.40" x2="487.30" y2="217.20" stroke="#d6d6d6" stroke-width="0.4" stroke-dasharray="0.8 0.8"/>
<line x1="508.90" y1="50.40" x2="508.90" y2="130.40" stroke="#d6d6d6" stroke-width="0.4" stroke-dasharray="0.8 0.8"/>
<line x1="508.90" y1="163.40" x2="508.90" y2="217.20" stroke="#d6d6d6" stroke-width="0.4" stroke-dasharray="0.8 0.8"/>
<line x1="530.50" y1="50.40" x2="530.50" y2="130.40" stroke="#d6d6d6" stroke-width="0.4" stroke-dasharray="0.8 0.8"/>
<line x1="530.50" y1="163.40" x2="530.50" y2="217.20" stroke="#d6d6d6" stroke-width="0.4" stroke-dasharray="0.8 0.8"/>
<line x1="552.10" y1="50.40" x2="552.10" y2="130.40" stroke="#d6d6d6" stroke-width="0.4" stroke-dasharray="0.8 0.8"/>
<line x1="552.10" y1="163.40" x2="552.10" y2="217.20" stroke="#d6d6d6" stroke-width="0.4" stroke-dasharray="0.8 0.8"/>
<line x1="573.70" y1="50.40" x2="573.70" y2="130.40" stroke="#d6d6d6" stroke-width="0.4" stroke-dasharray="0.8 0.8"/>
<line x1="573.70" y1="163.40" x2="573.70" y2="217.20" stroke="#d6d6d6" stroke-width="0.4" stroke-dasharray="0.8 0.8"/>
<line x1="595.30" y1="50.40" x2="595.30" y2="130.40" stroke="#d6d6d6" stroke-width="0.4" stroke-dasharray="0.8 0.8"/>
<line x1="595.30" y1="163.40" x2="595.30" y2="217.20" stroke="#d6d6d6" stroke-width="0.4" stroke-dasharray="0.8 0.8"/>
<line x1="616.90" y1="50.40" x2="616.90" y2="130.40" stroke="#d6d6d6" stroke-width="0.4" stroke-dasharray="0.8 0.8"/>
<line x1="616.90" y1="163.40" x2="616.90" y2="217.20" stroke="#d6d6d6" stroke-width="0.4" stroke-dasharray="0.8 0.8"/>
<line x1="638.50" y1="50.40" x2="638.50" y2="130.40" stroke="#d6d6d6" stroke-width="0.4" stroke-dasharray="0.8 0.8"/>
<line x1="638.50" y1="163.40" x2="638.50" y2="217.20" stroke="#d6d6d6" stroke-width="0.4" stroke-dasharray="0.8 0.8"/>
<line x1="660.10" y1="50.40" x2="660.10" y2="130.40" stroke="#d6d6d6" stroke-width="0.4" stroke-dasharray="0.8 0.8"/>
<line x1="660.10" y1="163.40" x2="660.10" y2="217.20" stroke="#d6d6d6" stroke-width="0.4" stroke-dasharray="0.8 0.8"/>
<line x1="487.30" y1="57.30" x2="671.80" y2="57.30" stroke="#b0b0b0" stroke-width="0.6" />
<text x="484.70" y="59.00" font-size="5.0" text-anchor="end" font-weight="normal" fill="#333" style='font-family:"DejaVu Sans", "Liberation Sans", sans-serif' >0.00</text>
<line x1="487.30" y1="66.21" x2="671.80" y2="66.21" stroke="#d6d6d6" stroke-width="0.4" stroke-dasharray="0.8 0.8"/>
<text x="484.70" y="67.91" font-size="5.0" text-anchor="end" font-weight="normal" fill="#333" style='font-family:"DejaVu Sans", "Liberation Sans", sans-serif' >-0.05</text>
<line x1="487.30" y1="75.12" x2="671.80" y2="75.12" stroke="#d6d6d6" stroke-width="0.4" stroke-dasharray="0.8 0.8"/>
<text x="484.70" y="76.82" font-size="5.0" text-anchor="end" font-weight="normal" fill="#333" style='font-family:"DejaVu Sans", "Liberation Sans", sans-serif' >-0.10</text>
<line x1="487.30" y1="84.03" x2="671.80" y2="84.03" stroke="#d6d6d6" stroke-width="0.4" stroke-dasharray="0.8 0.8"/>
<text x="484.70" y="85.73" font-size="5.0" text-anchor="end" font-weight="normal" fill="#333" style='font-family:"DejaVu Sans", "Liberation Sans", sans-serif' >-0.15</text>
<line x1="487.30" y1="92.94" x2="671.80" y2="92.94" stroke="#d6d6d6" stroke-width="0.4" stroke-dasharray="0.8 0.8"/>
<text x="484.70" y="94.64" font-size="5.0" text-anchor="end" font-weight="normal" fill="#333" style='font-family:"DejaVu Sans", "Liberation Sans", sans-serif' >-0.20</text>
<line x1="487.30" y1="101.85" x2="671.80" y2="101.85" stroke="#d6d6d6" stroke-width="0.4" stroke-dasharray="0.8 0.8"/>
<text x="484.70" y="103.55" font-size="5.0" text-anchor="end" font-weight="normal" fill="#333" style='font-family:"DejaVu Sans", "Liberation Sans", sans-serif' >-0.25</text>
<line x1="487.30" y1="110.76" x2="671.80" y2="110.76" stroke="#d6d6d6" stroke-width="0.4" stroke-dasharray="0.8 0.8"/>
<text x="484.70" y="112.46" font-size="5.0" text-anchor="end" font-weight="normal" fill="#333" style='font-family:"DejaVu Sans", "Liberation Sans", sans-serif' >-0.30</text>
<line x1="487.30" y1="119.67" x2="671.80" y2="119.67" stroke="#d6d6d6" stroke-width="0.4" stroke-dasharray="0.8 0.8"/>
<text x="484.70" y="121.37" font-size="5.0" text-anchor="end" font-weight="normal" fill="#333" style='font-family:"DejaVu Sans", "Liberation Sans", sans-serif' >-0.35</text>
<line x1="487.30" y1="128.58" x2="671.80" y2="128.58" stroke="#d6d6d6" stroke-width="0.4" stroke-dasharray="0.8 0.8"/>
<text x="484.70" y="130.28" font-size="5.0" text-anchor="end" font-weight="normal" fill="#333" style='font-family:"DejaVu Sans", "Liberation Sans", sans-serif' >-0.40</text>
<text transform="translate(468.10,89.40) rotate(-90)" font-size="5.4" text-anchor="middle" fill="#111" font-weight="bold" style='font-family:"DejaVu Sans", "Liberation Sans", sans-serif'>Enrichment score (ES)</text>
<line x1="487.30" y1="130.40" x2="671.80" y2="130.40" stroke="#c4c4c4" stroke-width="0.5" />
<g>
<rect x="487.30" y="156.80" width="5.90" height="6.60" fill="#ee3c3c" stroke="none" stroke-width="1" />
<rect x="493.00" y="156.80" width="5.20" height="6.60" fill="#f24a4a" stroke="none" stroke-width="1" />
<rect x="498.00" y="156.80" width="12.20" height="6.60" fill="#f65555" stroke="none" stroke-width="1" />
<rect x="510.00" y="156.80" width="10.20" height="6.60" fill="#f85c5c" stroke="none" stroke-width="1" />
<rect x="520.00" y="156.80" width="4.20" height="6.60" fill="#f76c6c" stroke="none" stroke-width="1" />
<rect x="524.00" y="156.80" width="12.20" height="6.60" fill="#f87a8a" stroke="none" stroke-width="1" />
<rect x="536.00" y="156.80" width="4.20" height="6.60" fill="#f5828a" stroke="none" stroke-width="1" />
<rect x="540.00" y="156.80" width="15.30" height="6.60" fill="#f98c92" stroke="none" stroke-width="1" />
<rect x="555.10" y="156.80" width="20.60" height="6.60" fill="#f5b2de" stroke="none" stroke-width="1" />
<rect x="575.50" y="156.80" width="19.70" height="6.60" fill="#cacafb" stroke="none" stroke-width="1" />
<rect x="595.00" y="156.80" width="18.00" height="6.60" fill="#bebef9" stroke="none" stroke-width="1" />
<rect x="612.80" y="156.80" width="15.60" height="6.60" fill="#8282f8" stroke="none" stroke-width="1" />
<rect x="628.20" y="156.80" width="27.20" height="6.60" fill="#6152ee" stroke="none" stroke-width="1" />
<rect x="655.20" y="156.80" width="6.20" height="6.60" fill="#2a04c2" stroke="none" stroke-width="1" />
<rect x="661.20" y="156.80" width="1.20" height="6.60" fill="#1a0080" stroke="none" stroke-width="1" />
</g>
<g fill="#000">
<rect x="487.92" y="131.00" width="1.61" height="25.80" fill-opacity="0.85"/>
<rect x="487.92" y="156.80" width="1.61" height="6.60" fill-opacity="0.076"/>
<rect x="490.84" y="131.00" width="1.46" height="25.80" fill-opacity="0.45"/>
<rect x="490.84" y="156.80" width="1.46" height="6.60" fill-opacity="0.041"/>
<rect x="495.95" y="131.00" width="2.92" height="25.80" fill-opacity="0.5"/>
<rect x="495.95" y="156.80" width="2.92" height="6.60" fill-opacity="0.045"/>
<rect x="498.87" y="131.00" width="2.34" height="25.80" fill-opacity="0.3"/>
<rect x="498.87" y="156.80" width="2.34" height="6.60" fill-opacity="0.027"/>
<rect x="503.98" y="131.00" width="4.53" height="25.80" fill-opacity="0.7"/>
<rect x="503.98" y="156.80" width="4.53" height="6.60" fill-opacity="0.063"/>
<rect x="508.50" y="131.00" width="2.92" height="25.80" fill-opacity="0.25"/>
<rect x="508.50" y="156.80" width="2.92" height="6.60" fill-opacity="0.022"/>
<rect x="513.47" y="131.00" width="1.61" height="25.80" fill-opacity="0.45"/>
<rect x="513.47" y="156.80" width="1.61" height="6.60" fill-opacity="0.041"/>
<rect x="519.31" y="131.00" width="3.07" height="25.80" fill-opacity="0.45"/>
<rect x="519.31" y="156.80" width="3.07" height="6.60" fill-opacity="0.041"/>
<rect x="525.15" y="131.00" width="3.80" height="25.80" fill-opacity="0.5"/>
<rect x="525.15" y="156.80" width="3.80" height="6.60" fill-opacity="0.045"/>
<rect x="530.26" y="131.00" width="1.61" height="25.80" fill-opacity="0.8"/>
<rect x="530.26" y="156.80" width="1.61" height="6.60" fill-opacity="0.072"/>
<rect x="533.91" y="131.00" width="2.34" height="25.80" fill-opacity="0.8"/>
<rect x="533.91" y="156.80" width="2.34" height="6.60" fill-opacity="0.072"/>
<rect x="536.24" y="131.00" width="2.04" height="25.80" fill-opacity="0.4"/>
<rect x="536.24" y="156.80" width="2.04" height="6.60" fill-opacity="0.036"/>
<rect x="539.74" y="131.00" width="2.34" height="25.80" fill-opacity="0.8"/>
<rect x="539.74" y="156.80" width="2.34" height="6.60" fill-opacity="0.072"/>
<rect x="543.39" y="131.00" width="1.61" height="25.80" fill-opacity="0.8"/>
<rect x="543.39" y="156.80" width="1.61" height="6.60" fill-opacity="0.072"/>
<rect x="546.31" y="131.00" width="3.07" height="25.80" fill-opacity="0.45"/>
<rect x="546.31" y="156.80" width="3.07" height="6.60" fill-opacity="0.041"/>
<rect x="550.69" y="131.00" width="1.90" height="25.80" fill-opacity="0.8"/>
<rect x="550.69" y="156.80" width="1.90" height="6.60" fill-opacity="0.072"/>
<rect x="552.59" y="131.00" width="1.75" height="25.80" fill-opacity="0.2"/>
<rect x="552.59" y="156.80" width="1.75" height="6.60" fill-opacity="0.018"/>
<rect x="554.34" y="131.00" width="3.80" height="25.80" fill-opacity="0.75"/>
<rect x="554.34" y="156.80" width="3.80" height="6.60" fill-opacity="0.068"/>
<rect x="560.91" y="131.00" width="1.61" height="25.80" fill-opacity="0.45"/>
<rect x="560.91" y="156.80" width="1.61" height="6.60" fill-opacity="0.041"/>
<rect x="565.29" y="131.00" width="2.34" height="25.80" fill-opacity="0.45"/>
<rect x="565.29" y="156.80" width="2.34" height="6.60" fill-opacity="0.041"/>
<rect x="568.21" y="131.00" width="1.61" height="25.80" fill-opacity="0.8"/>
<rect x="568.21" y="156.80" width="1.61" height="6.60" fill-opacity="0.072"/>
<rect x="570.40" y="131.00" width="2.19" height="25.80" fill-opacity="0.45"/>
<rect x="570.40" y="156.80" width="2.19" height="6.60" fill-opacity="0.041"/>
<rect x="572.59" y="131.00" width="1.90" height="25.80" fill-opacity="0.8"/>
<rect x="572.59" y="156.80" width="1.90" height="6.60" fill-opacity="0.072"/>
<rect x="576.24" y="131.00" width="6.72" height="25.80" fill-opacity="0.5"/>
<rect x="576.24" y="156.80" width="6.72" height="6.60" fill-opacity="0.045"/>
<rect x="582.96" y="131.00" width="3.36" height="25.80" fill-opacity="0.8"/>
<rect x="582.96" y="156.80" width="3.36" height="6.60" fill-opacity="0.072"/>
<rect x="580.00" y="131.00" width="2.19" height="25.80" fill-opacity="0.2"/>
<rect x="580.00" y="156.80" width="2.19" height="6.60" fill-opacity="0.018"/>
<rect x="582.92" y="131.00" width="4.38" height="25.80" fill-opacity="0.6"/>
<rect x="582.92" y="156.80" width="4.38" height="6.60" fill-opacity="0.054"/>
<rect x="587.30" y="131.00" width="1.61" height="25.80" fill-opacity="0.85"/>
<rect x="587.30" y="156.80" width="1.61" height="6.60" fill-opacity="0.076"/>
<rect x="589.05" y="131.00" width="2.63" height="25.80" fill-opacity="0.22"/>
<rect x="589.05" y="156.80" width="2.63" height="6.60" fill-opacity="0.020"/>
<rect x="595.33" y="131.00" width="1.46" height="25.80" fill-opacity="0.45"/>
<rect x="595.33" y="156.80" width="1.46" height="6.60" fill-opacity="0.041"/>
<rect x="598.25" y="131.00" width="1.46" height="25.80" fill-opacity="0.8"/>
<rect x="598.25" y="156.80" width="1.46" height="6.60" fill-opacity="0.072"/>
<rect x="599.71" y="131.00" width="4.53" height="25.80" fill-opacity="0.28"/>
<rect x="599.71" y="156.80" width="4.53" height="6.60" fill-opacity="0.025"/>
<rect x="606.28" y="131.00" width="5.84" height="25.80" fill-opacity="0.7"/>
<rect x="606.28" y="156.80" width="5.84" height="6.60" fill-opacity="0.063"/>
<rect x="612.12" y="131.00" width="4.53" height="25.80" fill-opacity="0.93"/>
<rect x="612.12" y="156.80" width="4.53" height="6.60" fill-opacity="0.084"/>
<rect x="618.69" y="131.00" width="1.46" height="25.80" fill-opacity="0.5"/>
<rect x="618.69" y="156.80" width="1.46" height="6.60" fill-opacity="0.045"/>
<rect x="620.15" y="131.00" width="1.61" height="25.80" fill-opacity="0.85"/>
<rect x="620.15" y="156.80" width="1.61" height="6.60" fill-opacity="0.076"/>
<rect x="622.34" y="131.00" width="1.61" height="25.80" fill-opacity="0.85"/>
<rect x="622.34" y="156.80" width="1.61" height="6.60" fill-opacity="0.076"/>
<rect x="624.53" y="131.00" width="2.19" height="25.80" fill-opacity="0.15"/>
<rect x="624.53" y="156.80" width="2.19" height="6.60" fill-opacity="0.013"/>
<rect x="626.72" y="131.00" width="3.65" height="25.80" fill-opacity="0.5"/>
<rect x="626.72" y="156.80" width="3.65" height="6.60" fill-opacity="0.045"/>
<rect x="630.36" y="131.00" width="2.34" height="25.80" fill-opacity="0.95"/>
<rect x="630.36" y="156.80" width="2.34" height="6.60" fill-opacity="0.085"/>
<rect x="634.01" y="131.00" width="1.61" height="25.80" fill-opacity="0.85"/>
<rect x="634.01" y="156.80" width="1.61" height="6.60" fill-opacity="0.076"/>
<rect x="637.66" y="131.00" width="2.04" height="25.80" fill-opacity="0.95"/>
<rect x="637.66" y="156.80" width="2.04" height="6.60" fill-opacity="0.085"/>
<rect x="642.04" y="131.00" width="3.65" height="25.80" fill-opacity="0.55"/>
<rect x="642.04" y="156.80" width="3.65" height="6.60" fill-opacity="0.050"/>
<rect x="645.69" y="131.00" width="3.07" height="25.80" fill-opacity="0.8"/>
<rect x="645.69" y="156.80" width="3.07" height="6.60" fill-opacity="0.072"/>
<rect x="648.76" y="131.00" width="2.04" height="25.80" fill-opacity="0.5"/>
<rect x="648.76" y="156.80" width="2.04" height="6.60" fill-opacity="0.045"/>
<rect x="650.80" y="131.00" width="1.90" height="25.80" fill-opacity="0.95"/>
<rect x="650.80" y="156.80" width="1.90" height="6.60" fill-opacity="0.085"/>
<rect x="652.70" y="131.00" width="1.75" height="25.80" fill-opacity="0.2"/>
<rect x="652.70" y="156.80" width="1.75" height="6.60" fill-opacity="0.018"/>
<rect x="654.45" y="131.00" width="2.92" height="25.80" fill-opacity="0.95"/>
<rect x="654.45" y="156.80" width="2.92" height="6.60" fill-opacity="0.085"/>
<rect x="657.66" y="131.00" width="1.90" height="25.80" fill-opacity="0.92"/>
<rect x="657.66" y="156.80" width="1.90" height="6.60" fill-opacity="0.083"/>
<rect x="659.85" y="131.00" width="1.61" height="25.80" fill-opacity="0.97"/>
<rect x="659.85" y="156.80" width="1.61" height="6.60" fill-opacity="0.087"/>
</g>
<line x1="487.30" y1="163.40" x2="671.80" y2="163.40" stroke="#c4c4c4" stroke-width="0.5" />
<text transform="translate(484.90,164.45) rotate(-90)" font-size="4.5" text-anchor="middle" fill="#222" style='font-family:"DejaVu Sans", "Liberation Sans", sans-serif'>3</text>
<line x1="487.30" y1="171.70" x2="671.80" y2="171.70" stroke="#d6d6d6" stroke-width="0.4" stroke-dasharray="0.8 0.8"/>
<text transform="translate(484.90,171.70) rotate(-90)" font-size="4.5" text-anchor="middle" fill="#222" style='font-family:"DejaVu Sans", "Liberation Sans", sans-serif'>2</text>
<line x1="487.30" y1="178.95" x2="671.80" y2="178.95" stroke="#d6d6d6" stroke-width="0.4" stroke-dasharray="0.8 0.8"/>
<text transform="translate(484.90,178.95) rotate(-90)" font-size="4.5" text-anchor="middle" fill="#222" style='font-family:"DejaVu Sans", "Liberation Sans", sans-serif'>1</text>
<line x1="487.30" y1="186.20" x2="671.80" y2="186.20" stroke="#d6d6d6" stroke-width="0.4" stroke-dasharray="0.8 0.8"/>
<text transform="translate(484.90,186.20) rotate(-90)" font-size="4.5" text-anchor="middle" fill="#222" style='font-family:"DejaVu Sans", "Liberation Sans", sans-serif'>0</text>
<line x1="487.30" y1="193.45" x2="671.80" y2="193.45" stroke="#d6d6d6" stroke-width="0.4" stroke-dasharray="0.8 0.8"/>
<text transform="translate(484.90,193.45) rotate(-90)" font-size="4.5" text-anchor="middle" fill="#222" style='font-family:"DejaVu Sans", "Liberation Sans", sans-serif'>-1</text>
<line x1="487.30" y1="200.70" x2="671.80" y2="200.70" stroke="#d6d6d6" stroke-width="0.4" stroke-dasharray="0.8 0.8"/>
<text transform="translate(484.90,200.70) rotate(-90)" font-size="4.5" text-anchor="middle" fill="#222" style='font-family:"DejaVu Sans", "Liberation Sans", sans-serif'>-2</text>
<line x1="487.30" y1="207.95" x2="671.80" y2="207.95" stroke="#d6d6d6" stroke-width="0.4" stroke-dasharray="0.8 0.8"/>
<text transform="translate(484.90,207.95) rotate(-90)" font-size="4.5" text-anchor="middle" fill="#222" style='font-family:"DejaVu Sans", "Liberation Sans", sans-serif'>-3</text>
<line x1="487.30" y1="215.20" x2="671.80" y2="215.20" stroke="#d6d6d6" stroke-width="0.4" stroke-dasharray="0.8 0.8"/>
<text transform="translate(484.90,215.20) rotate(-90)" font-size="4.5" text-anchor="middle" fill="#222" style='font-family:"DejaVu Sans", "Liberation Sans", sans-serif'>-4</text>
<path d="M487.30,186.20 L487.30,175.32 L487.36,175.41 L487.49,175.62 L487.70,175.93 L487.97,176.31 L488.31,176.73 L488.70,177.19 L489.15,177.65 L489.65,178.12 L490.20,178.57 L490.81,179.00 L491.47,179.40 L492.17,179.77 L492.93,180.11 L493.73,180.41 L494.58,180.68 L495.48,180.92 L496.42,181.14 L497.41,181.33 L498.44,181.50 L499.52,181.66 L500.64,181.81 L501.81,181.94 L503.02,182.07 L504.27,182.19 L505.56,182.30 L506.90,182.41 L508.28,182.52 L509.70,182.63 L511.16,182.73 L512.66,182.84 L514.20,182.94 L515.78,183.04 L517.40,183.14 L519.07,183.25 L520.77,183.35 L522.51,183.45 L524.29,183.55 L526.11,183.66 L527.96,183.76 L529.86,183.87 L531.79,183.97 L533.77,184.08 L535.78,184.18 L537.82,184.29 L539.91,184.40 L542.03,184.51 L544.19,184.62 L546.39,184.73 L548.63,184.85 L550.90,184.96 L553.20,185.08 L555.55,185.20 L557.93,185.32 L560.35,185.44 L562.80,185.56 L565.29,185.68 L567.81,185.81 L570.37,185.94 L572.97,186.07 L575.60,186.20 L577.70,186.33 L579.78,186.45 L581.82,186.58 L583.84,186.70 L585.83,186.82 L587.80,186.94 L589.73,187.05 L591.64,187.17 L593.52,187.28 L595.37,187.39 L597.19,187.50 L598.99,187.61 L600.76,187.72 L602.50,187.82 L604.21,187.92 L605.90,188.03 L607.56,188.13 L609.20,188.23 L610.80,188.32 L612.38,188.42 L613.93,188.51 L615.46,188.60 L616.96,188.69 L618.43,188.78 L619.88,188.87 L621.29,188.95 L622.69,189.04 L624.05,189.12 L625.39,189.20 L626.71,189.28 L628.00,189.36 L629.26,189.43 L630.50,189.51 L631.71,189.58 L632.89,189.65 L634.05,189.73 L635.19,189.79 L636.29,189.86 L637.38,189.93 L638.44,190.00 L639.47,190.06 L640.48,190.13 L641.46,190.19 L642.42,190.26 L643.35,190.32 L644.26,190.39 L645.15,190.46 L646.01,190.52 L646.84,190.60 L647.65,190.67 L648.44,190.75 L649.21,190.83 L649.95,190.92 L650.66,191.02 L651.36,191.12 L652.03,191.22 L652.67,191.34 L653.30,191.46 L653.90,191.60 L654.48,191.74 L655.03,191.89 L655.56,192.05 L656.07,192.22 L656.56,192.40 L657.03,192.59 L657.47,192.79 L657.89,192.99 L658.30,193.20 L658.68,193.42 L659.03,193.64 L659.37,193.86 L659.69,194.09 L659.99,194.31 L660.26,194.53 L660.52,194.76 L660.76,194.98 L660.97,195.23 L661.17,195.52 L661.35,195.93 L661.51,196.54 L661.65,197.47 L661.78,198.88 L661.89,200.86 L661.98,203.43 L662.05,206.46 L662.11,209.67 L662.15,212.64 L662.18,214.98 L662.20,216.39 L662.20,216.79 L662.20,186.20 Z" fill="#c8c8c8"/>
<rect x="661.20" y="192.72" width="1.00" height="24.47" fill="#c8c8c8" stroke="none" stroke-width="1" />
<rect x="487.30" y="172.42" width="0.80" height="13.78" fill="#c8c8c8" stroke="none" stroke-width="1" />
<line x1="575.60" y1="163.40" x2="575.60" y2="217.20" stroke="#bbb" stroke-width="0.4" stroke-dasharray="1 1"/>
<text x="489.00" y="167.90" font-size="4.15" text-anchor="start" font-weight="normal" fill="#ff2a2a" style='font-family:"DejaVu Sans", "Liberation Sans", sans-serif' >'PCBP1_KD' (positively correlated)</text>
<text x="650.90" y="214.90" font-size="4.15" text-anchor="end" font-weight="normal" fill="#2a2aff" style='font-family:"DejaVu Sans", "Liberation Sans", sans-serif' >'PCBP1_WT' (negatively correlated)</text>
<text x="575.60" y="191.90" font-size="3.9" text-anchor="middle" font-weight="normal" fill="#333" style='font-family:"DejaVu Sans", "Liberation Sans", sans-serif' >Zero cross at 8190</text>
<text x="487.30" y="223.60" font-size="4.1" text-anchor="middle" font-weight="normal" fill="#333" style='font-family:"DejaVu Sans", "Liberation Sans", sans-serif' >0</text>
<text x="508.90" y="223.60" font-size="4.1" text-anchor="middle" font-weight="normal" fill="#333" style='font-family:"DejaVu Sans", "Liberation Sans", sans-serif' >2,000</text>
<text x="530.50" y="223.60" font-size="4.1" text-anchor="middle" font-weight="normal" fill="#333" style='font-family:"DejaVu Sans", "Liberation Sans", sans-serif' >4,000</text>
<text x="552.10" y="223.60" font-size="4.1" text-anchor="middle" font-weight="normal" fill="#333" style='font-family:"DejaVu Sans", "Liberation Sans", sans-serif' >6,000</text>
<text x="573.70" y="223.60" font-size="4.1" text-anchor="middle" font-weight="normal" fill="#333" style='font-family:"DejaVu Sans", "Liberation Sans", sans-serif' >8,000</text>
<text x="595.30" y="223.60" font-size="4.1" text-anchor="middle" font-weight="normal" fill="#333" style='font-family:"DejaVu Sans", "Liberation Sans", sans-serif' >10,000</text>
<text x="616.90" y="223.60" font-size="4.1" text-anchor="middle" font-weight="normal" fill="#333" style='font-family:"DejaVu Sans", "Liberation Sans", sans-serif' >12,000</text>
<text x="638.50" y="223.60" font-size="4.1" text-anchor="middle" font-weight="normal" fill="#333" style='font-family:"DejaVu Sans", "Liberation Sans", sans-serif' >14,000</text>
<text x="660.10" y="223.60" font-size="4.1" text-anchor="middle" font-weight="normal" fill="#333" style='font-family:"DejaVu Sans", "Liberation Sans", sans-serif' >16,000</text>
<text x="581.70" y="230.10" font-size="4.44" text-anchor="middle" font-weight="bold" fill="#111" style='font-family:"DejaVu Sans", "Liberation Sans", sans-serif' >Rank in Ordered Dataset</text>
<text transform="translate(476.10,190.00) rotate(-90)" font-size="4.36" text-anchor="middle" fill="#111" font-weight="bold" style='font-family:"DejaVu Sans", "Liberation Sans", sans-serif'>Ranked list metric (Signal2Noise)</text>
<rect x="490.30" y="235.40" width="152.90" height="9.80" fill="#fff" stroke="#222" stroke-width="0.6" />
<line x1="491.50" y1="240.50" x2="498.10" y2="240.50" stroke="#00e000" stroke-width="0.9" />
<text x="499.50" y="242.20" font-size="4.9" text-anchor="start" font-weight="normal" fill="#111" style='font-family:"DejaVu Sans", "Liberation Sans", sans-serif' >Enrichment profile</text>
<line x1="548.40" y1="240.50" x2="554.00" y2="240.50" stroke="#222" stroke-width="0.5" />
<text x="555.70" y="242.20" font-size="4.9" text-anchor="start" font-weight="normal" fill="#111" style='font-family:"DejaVu Sans", "Liberation Sans", sans-serif' >Hits</text>
<line x1="578.80" y1="240.50" x2="584.60" y2="240.50" stroke="#ccc" stroke-width="0.5" />
<text x="586.70" y="242.20" font-size="4.9" text-anchor="start" font-weight="normal" fill="#111" style='font-family:"DejaVu Sans", "Liberation Sans", sans-serif' >Ranking metric scores</text>
<path d="M487.30,57.33 L489.40,54.55 L491.00,55.57 L492.90,56.91 L494.50,55.80 L496.40,58.33 L499.00,56.33 L501.70,55.70 L503.40,57.74 L505.20,57.67 L507.00,55.65 L508.70,54.54 L510.35,54.72 L512.00,55.30 L513.85,56.41 L515.70,57.94 L517.30,59.02 L518.90,60.49 L520.50,61.78 L522.10,62.81 L523.70,63.97 L525.30,64.90 L527.05,65.47 L528.80,66.61 L530.57,67.99 L532.33,69.52 L534.10,70.85 L535.66,71.70 L537.21,72.45 L538.77,73.41 L540.32,73.64 L541.88,74.69 L543.43,75.33 L544.99,76.47 L546.54,77.29 L548.10,77.63 L549.60,78.51 L551.10,79.62 L552.60,80.67 L554.10,81.99 L555.60,82.74 L557.10,83.97 L558.60,84.66 L560.20,86.49 L561.80,87.93 L563.40,89.93 L565.00,91.51 L566.46,92.95 L567.92,94.20 L569.38,95.09 L570.83,95.96 L572.29,97.76 L573.75,98.96 L575.21,99.82 L576.67,101.02 L578.12,102.53 L579.58,103.24 L581.04,104.44 L582.50,105.94 L583.94,107.20 L585.37,108.49 L586.81,109.88 L588.25,110.94 L589.68,112.15 L591.12,113.30 L592.55,114.57 L593.99,115.96 L595.43,117.29 L596.86,118.79 L598.30,119.98 L600.27,121.33 L602.25,122.67 L604.23,124.26 L606.20,125.52 L608.60,125.31 L611.00,124.70 L613.40,124.54 L615.80,124.11 L617.60,125.11 L620.50,125.45 L622.10,125.07 L623.70,124.22 L626.00,125.07 L628.90,126.13 L632.00,123.33 L635.10,120.58 L636.80,122.07 L638.60,121.64 L640.20,118.83 L641.40,120.22 L642.10,118.30 L644.50,116.99 L647.30,114.28 L648.65,110.76 L650.00,106.65 L650.85,104.03 L651.70,100.60 L652.60,102.05 L653.50,99.54 L655.40,94.73 L657.00,89.75 L658.40,82.26 L659.60,72.52 L661.00,63.70 L662.20,57.10" fill="none" stroke="#00f400" stroke-width="1.4" stroke-linejoin="round" stroke-linecap="round"/>
<line x1="76.00" y1="349.80" x2="76.00" y2="552.00" stroke="#000" stroke-width="1.65" />
<line x1="75.20" y1="551.20" x2="209.80" y2="551.20" stroke="#000" stroke-width="1.65" />
<line x1="69.80" y1="350.60" x2="76.00" y2="350.60" stroke="#000" stroke-width="1.5" />
<text x="68.70" y="355.75" font-size="14.4" text-anchor="end" font-weight="bold" fill="#000" >1.5</text>
<line x1="69.80" y1="417.40" x2="76.00" y2="417.40" stroke="#000" stroke-width="1.5" />
<text x="68.70" y="422.55" font-size="14.4" text-anchor="end" font-weight="bold" fill="#000" >1.0</text>
<line x1="69.80" y1="484.20" x2="76.00" y2="484.20" stroke="#000" stroke-width="1.5" />
<text x="68.70" y="489.35" font-size="14.4" text-anchor="end" font-weight="bold" fill="#000" >0.5</text>
<line x1="72.30" y1="384.00" x2="76.00" y2="384.00" stroke="#000" stroke-width="1.3" />
<line x1="72.30" y1="450.80" x2="76.00" y2="450.80" stroke="#000" stroke-width="1.3" />
<line x1="72.30" y1="517.60" x2="76.00" y2="517.60" stroke="#000" stroke-width="1.3" />
<text transform="translate(39.00,451.20) rotate(-90)" font-size="12.3" text-anchor="middle" font-weight="normal">%CD3+ CD8+ T cells relative to WT</text>
<line x1="114.00" y1="408.40" x2="114.00" y2="427.50" stroke="#333" stroke-width="0.95" />
<line x1="104.30" y1="408.40" x2="123.70" y2="408.40" stroke="#333" stroke-width="0.95" />
<line x1="104.30" y1="427.50" x2="123.70" y2="427.50" stroke="#333" stroke-width="0.95" />
<line x1="95.00" y1="417.50" x2="133.00" y2="417.50" stroke="#000" stroke-width="1.6" />
<circle cx="114.00" cy="376.40" r="2.85" fill="none" stroke="#000" stroke-width="1.4"/>
<circle cx="114.00" cy="386.00" r="2.85" fill="none" stroke="#000" stroke-width="1.4"/>
<circle cx="114.00" cy="392.30" r="2.85" fill="none" stroke="#000" stroke-width="1.4"/>
<circle cx="108.40" cy="411.20" r="2.85" fill="none" stroke="#000" stroke-width="1.4"/>
<circle cx="120.00" cy="414.30" r="2.85" fill="none" stroke="#000" stroke-width="1.4"/>
<circle cx="108.40" cy="417.80" r="2.85" fill="none" stroke="#000" stroke-width="1.4"/>
<circle cx="120.00" cy="422.00" r="2.85" fill="none" stroke="#000" stroke-width="1.4"/>
<circle cx="114.00" cy="432.70" r="2.85" fill="none" stroke="#000" stroke-width="1.4"/>
<circle cx="114.00" cy="450.10" r="2.85" fill="none" stroke="#000" stroke-width="1.4"/>
<circle cx="114.00" cy="477.00" r="2.85" fill="none" stroke="#000" stroke-width="1.4"/>
<line x1="171.40" y1="450.20" x2="171.40" y2="476.50" stroke="#333" stroke-width="0.95" />
<line x1="161.60" y1="450.20" x2="181.20" y2="450.20" stroke="#333" stroke-width="0.95" />
<line x1="161.60" y1="476.50" x2="181.20" y2="476.50" stroke="#333" stroke-width="0.95" />
<line x1="152.20" y1="463.00" x2="190.60" y2="463.00" stroke="#000" stroke-width="1.6" />
<circle cx="171.40" cy="403.00" r="2.85" fill="#d3d0f8" stroke="#000" stroke-width="1.4"/>
<circle cx="171.40" cy="423.20" r="2.85" fill="#d3d0f8" stroke="#000" stroke-width="1.4"/>
<circle cx="171.40" cy="447.40" r="2.85" fill="#d3d0f8" stroke="#000" stroke-width="1.4"/>
<circle cx="171.40" cy="455.20" r="2.85" fill="#d3d0f8" stroke="#000" stroke-width="1.4"/>
<circle cx="171.40" cy="477.40" r="2.85" fill="#d3d0f8" stroke="#000" stroke-width="1.4"/>
<circle cx="171.40" cy="488.80" r="2.85" fill="#d3d0f8" stroke="#000" stroke-width="1.4"/>
<circle cx="165.40" cy="506.30" r="2.85" fill="#d3d0f8" stroke="#000" stroke-width="1.4"/>
<circle cx="177.00" cy="504.80" r="2.85" fill="#d3d0f8" stroke="#000" stroke-width="1.4"/>
<path d="M114,369.7 V362.7 H171.4 V396" fill="none" stroke="#000" stroke-width="1.3"/>
<text x="142.80" y="363.40" font-size="16" text-anchor="middle" font-weight="bold" fill="#000" >*</text>
<text x="110.50" y="567.60" font-size="12.3" text-anchor="middle" font-weight="normal" fill="#000" >PyMT</text>
<text x="110.50" y="581.00" font-size="12.3" text-anchor="middle" font-weight="normal" fill="#000" >PCBP1+/+</text>
<text x="177.70" y="568.30" font-size="12.3" text-anchor="middle" font-weight="normal" fill="#000" >PyMT</text>
<text x="177.70" y="581.40" font-size="12.3" text-anchor="middle" font-weight="normal" fill="#000" >PCBP1–/–</text>
<filter id="soft" x="-5%" y="-5%" width="110%" height="110%"><feGaussianBlur stdDeviation="0.45"/></filter>
<text x="309.30" y="341.60" font-size="12.3" text-anchor="middle" font-weight="normal" fill="#000" >PyMT PCBP1+/+</text>
<text x="430.00" y="341.60" font-size="12.3" text-anchor="middle" font-weight="normal" fill="#000" >PyMT PCBP1–/–</text>
<clipPath id="clip1"><rect x="244.8" y="348.4" width="121.3" height="112.5"/></clipPath>
<filter id="nz1" x="0" y="0" width="100%" height="100%" color-interpolation-filters="sRGB"><feTurbulence type="fractalNoise" baseFrequency="0.3" numOctaves="3" seed="3" result="t"/><feColorMatrix type="matrix" values="0 0 0 0 0.10  0 0 0 0 0.05  0 0 0 0 0.44  2.0 0 0 0 -0.8"/></filter>
<rect x="244.80" y="348.40" width="121.30" height="112.50" fill="#11043a" stroke="none" stroke-width="1" />
<g clip-path="url(#clip1)">
<rect x="242.8" y="346.4" width="125.3" height="116.5" filter="url(#nz1)" opacity="0.9"/>
<g filter="url(#soft)">
<circle cx="261.4" cy="448.1" r="2.6" fill="#02010c" fill-opacity="0.8"/>
<circle cx="343.2" cy="446.8" r="3.6" fill="#02010c" fill-opacity="0.8"/>
<rect x="277.8" y="370.6" width="6" height="6" fill="#02010c" fill-opacity="0.6" stroke="#2a35c8" stroke-width="1" stroke-opacity="0.45" transform="rotate(20 280.8 373.6)"/>
<circle cx="247.6" cy="368.1" r="1.8" fill="#b83c5c" fill-opacity="0.6"/>
<circle cx="357.0" cy="375.4" r="1.5" fill="#b83c5c" fill-opacity="0.6"/>
<circle cx="363.5" cy="376.9" r="0.9" fill="#b83c5c" fill-opacity="0.6"/>
<circle cx="319.9" cy="387.4" r="1.6" fill="#b83c5c" fill-opacity="0.6"/>
<circle cx="323.9" cy="385.0" r="0.9" fill="#b83c5c" fill-opacity="0.6"/>
<circle cx="354.3" cy="360.7" r="0.8" fill="#b83c5c" fill-opacity="0.6"/>
<circle cx="322.1" cy="411.8" r="1.4" fill="#b83c5c" fill-opacity="0.6"/>
<circle cx="299.1" cy="426.9" r="1.5" fill="#b83c5c" fill-opacity="0.6"/>
<circle cx="287.1" cy="421.0" r="0.9" fill="#b83c5c" fill-opacity="0.6"/>
<circle cx="256.8" cy="431.0" r="1.8" fill="#b83c5c" fill-opacity="0.6"/>
<circle cx="303.7" cy="441.6" r="1.7" fill="#b83c5c" fill-opacity="0.6"/>
<circle cx="301.5" cy="444.4" r="1.2" fill="#b83c5c" fill-opacity="0.6"/>
<circle cx="338.3" cy="447.5" r="1.2" fill="#b83c5c" fill-opacity="0.6"/>
<circle cx="365.9" cy="393.8" r="1.2" fill="#b83c5c" fill-opacity="0.6"/>
</g></g>
<text x="250.70" y="361.80" font-size="9.1" text-anchor="start" font-weight="normal" fill="#f4f4f4" >CD8</text>
<line x1="249.60" y1="455.30" x2="271.00" y2="455.30" stroke="#fff" stroke-width="1.5" />
<clipPath id="clip2"><rect x="371.1" y="348.4" width="118.3" height="112.2"/></clipPath>
<filter id="nz2" x="0" y="0" width="100%" height="100%" color-interpolation-filters="sRGB"><feTurbulence type="fractalNoise" baseFrequency="0.35" numOctaves="3" seed="5" result="t"/><feColorMatrix type="matrix" values="0 0 0 0 0.14  0 0 0 0 0.05  0 0 0 0 0.36  2.0 0 0 0 -0.8"/></filter>
<rect x="371.10" y="348.40" width="118.30" height="112.20" fill="#17052c" stroke="none" stroke-width="1" />
<g clip-path="url(#clip2)">
<rect x="369.1" y="346.4" width="122.3" height="116.2" filter="url(#nz2)" opacity="0.9"/>
<g filter="url(#soft)">
<circle cx="451.8" cy="377.3" r="1.4" fill="#02010c" fill-opacity="0.8"/>
<circle cx="443.5" cy="403.4" r="1.4" fill="#02010c" fill-opacity="0.8"/>
<circle cx="485.8" cy="430.2" r="3.6" fill="#02010c" fill-opacity="0.8"/>
<circle cx="464.6" cy="450.8" r="2.8" fill="#02010c" fill-opacity="0.8"/>

<circle cx="483.4" cy="358.0" r="1.5" fill="#c83a55" fill-opacity="0.5"/>
<circle cx="391.0" cy="364.4" r="0.8" fill="#c83a55" fill-opacity="0.5"/>
<circle cx="425.1" cy="375.4" r="0.8" fill="#c83a55" fill-opacity="0.5"/>
<circle cx="402.1" cy="406.7" r="0.8" fill="#c83a55" fill-opacity="0.5"/>
<circle cx="448.1" cy="404.9" r="0.8" fill="#c83a55" fill-opacity="0.5"/>
<circle cx="483.0" cy="438.9" r="0.9" fill="#c83a55" fill-opacity="0.5"/>
</g></g>
<text x="377.70" y="359.70" font-size="9.1" text-anchor="start" font-weight="normal" fill="#f4f4f4" >CD8</text>
<line x1="375.60" y1="455.30" x2="397.00" y2="455.30" stroke="#fff" stroke-width="1.5" />
<clipPath id="clip3"><rect x="244.8" y="464.5" width="121.5" height="113.6"/></clipPath>
<filter id="nz3" x="0" y="0" width="100%" height="100%" color-interpolation-filters="sRGB"><feTurbulence type="fractalNoise" baseFrequency="0.3" numOctaves="3" seed="8" result="t"/><feColorMatrix type="matrix" values="0 0 0 0 0.06  0 0 0 0 0.06  0 0 0 0 0.28  2.0 0 0 0 -0.8"/></filter>
<rect x="244.80" y="464.50" width="121.50" height="113.60" fill="#050518" stroke="none" stroke-width="1" />
<g clip-path="url(#clip3)">
<rect x="242.8" y="462.5" width="125.5" height="117.6" filter="url(#nz3)" opacity="0.9"/>
<g filter="url(#soft)">
<circle cx="261.5" cy="565.0" r="2.6" fill="#02010c" fill-opacity="0.8"/>
<circle cx="343.5" cy="563.5" r="3.4" fill="#02010c" fill-opacity="0.8"/>
<circle cx="300.0" cy="520.0" r="2.2" fill="#02010c" fill-opacity="0.8"/>
<rect x="277" y="487" width="6.5" height="6.5" fill="#02010c" fill-opacity="0.5" stroke="#2a35c8" stroke-width="1" stroke-opacity="0.45" transform="rotate(20 280 490)"/>
<circle cx="277.4" cy="471.8" r="1.25" fill="#d6ce58" fill-opacity="0.78"/>
<circle cx="247.6" cy="483.7" r="1.25" fill="#d6ce58" fill-opacity="0.78"/>
<circle cx="344.0" cy="468.5" r="1.25" fill="#d6ce58" fill-opacity="0.78"/>
<circle cx="356.2" cy="491.3" r="1.25" fill="#d6ce58" fill-opacity="0.78"/>
<circle cx="364.3" cy="493.8" r="1.25" fill="#d6ce58" fill-opacity="0.78"/>
<circle cx="294.1" cy="500.4" r="1.25" fill="#d6ce58" fill-opacity="0.78"/>
<circle cx="322.9" cy="499.9" r="1.25" fill="#d6ce58" fill-opacity="0.78"/>
<circle cx="326.9" cy="505.5" r="1.25" fill="#d6ce58" fill-opacity="0.78"/>
<circle cx="309.3" cy="509.7" r="1.25" fill="#d6ce58" fill-opacity="0.78"/>
<circle cx="279.5" cy="511.2" r="1.25" fill="#d6ce58" fill-opacity="0.78"/>
<circle cx="363.7" cy="522.3" r="1.25" fill="#d6ce58" fill-opacity="0.78"/>
<circle cx="297.5" cy="529.3" r="1.25" fill="#d6ce58" fill-opacity="0.78"/>
<circle cx="321.6" cy="527.4" r="1.25" fill="#d6ce58" fill-opacity="0.78"/>
<circle cx="332.0" cy="535.3" r="1.25" fill="#d6ce58" fill-opacity="0.78"/>
<circle cx="284.6" cy="536.5" r="1.25" fill="#d6ce58" fill-opacity="0.78"/>
<circle cx="363.0" cy="533.0" r="1.25" fill="#d6ce58" fill-opacity="0.78"/>
<circle cx="255.8" cy="547.3" r="1.25" fill="#d6ce58" fill-opacity="0.78"/>
<circle cx="302.6" cy="557.7" r="1.25" fill="#d6ce58" fill-opacity="0.78"/>
<circle cx="299.8" cy="560.2" r="1.25" fill="#d6ce58" fill-opacity="0.78"/>
<circle cx="312.1" cy="573.3" r="1.25" fill="#d6ce58" fill-opacity="0.78"/>
<circle cx="337.7" cy="563.4" r="1.25" fill="#d6ce58" fill-opacity="0.78"/>
<circle cx="329.2" cy="542.6" r="1.25" fill="#d6ce58" fill-opacity="0.78"/>
</g></g>
<text x="250.80" y="475.40" font-size="9.1" text-anchor="start" font-weight="normal" fill="#f4f4f4" >CD3</text>
<line x1="249.60" y1="572.50" x2="271.00" y2="572.50" stroke="#fff" stroke-width="1.5" />
<clipPath id="clip4"><rect x="371.1" y="464.6" width="118.3" height="113.4"/></clipPath>
<filter id="nz4" x="0" y="0" width="100%" height="100%" color-interpolation-filters="sRGB"><feTurbulence type="fractalNoise" baseFrequency="0.35" numOctaves="3" seed="13" result="t"/><feColorMatrix type="matrix" values="0 0 0 0 0.06  0 0 0 0 0.06  0 0 0 0 0.28  2.0 0 0 0 -0.8"/></filter>
<rect x="371.10" y="464.60" width="118.30" height="113.40" fill="#050511" stroke="none" stroke-width="1" />
<g clip-path="url(#clip4)">
<rect x="369.1" y="462.6" width="122.3" height="117.4" filter="url(#nz4)" opacity="0.45"/>
<g filter="url(#soft)">
<circle cx="485.5" cy="548.0" r="3.6" fill="#02010c" fill-opacity="0.8"/>
<circle cx="464.0" cy="569.0" r="2.8" fill="#02010c" fill-opacity="0.8"/>

<circle cx="401.7" cy="542.3" r="0.67" fill="#8a8ab0" fill-opacity="0.33"/>
<circle cx="393.1" cy="490.7" r="0.46" fill="#8a8ab0" fill-opacity="0.19"/>
<circle cx="457.9" cy="479.4" r="0.61" fill="#8a8ab0" fill-opacity="0.19"/>
<circle cx="406.0" cy="513.5" r="0.74" fill="#8a8ab0" fill-opacity="0.28"/>
<circle cx="372.8" cy="495.9" r="0.46" fill="#8a8ab0" fill-opacity="0.33"/>
<circle cx="466.9" cy="556.0" r="0.73" fill="#8a8ab0" fill-opacity="0.30"/>
<circle cx="483.4" cy="554.6" r="0.50" fill="#8a8ab0" fill-opacity="0.33"/>
<circle cx="428.7" cy="550.2" r="0.63" fill="#8a8ab0" fill-opacity="0.24"/>
<circle cx="414.2" cy="513.3" r="0.53" fill="#8a8ab0" fill-opacity="0.17"/>
<circle cx="468.1" cy="555.1" r="0.79" fill="#8a8ab0" fill-opacity="0.29"/>
<circle cx="436.7" cy="549.5" r="0.45" fill="#8a8ab0" fill-opacity="0.29"/>
<circle cx="423.6" cy="484.6" r="0.48" fill="#8a8ab0" fill-opacity="0.26"/>
<circle cx="401.1" cy="516.7" r="0.64" fill="#8a8ab0" fill-opacity="0.23"/>
<circle cx="386.6" cy="520.3" r="0.49" fill="#8a8ab0" fill-opacity="0.19"/>
<circle cx="394.1" cy="506.2" r="0.43" fill="#8a8ab0" fill-opacity="0.28"/>
<circle cx="483.9" cy="508.8" r="0.69" fill="#8a8ab0" fill-opacity="0.35"/>
<circle cx="376.2" cy="480.7" r="0.72" fill="#8a8ab0" fill-opacity="0.33"/>
<circle cx="446.7" cy="482.7" r="0.57" fill="#8a8ab0" fill-opacity="0.33"/>
<circle cx="475.9" cy="555.7" r="0.48" fill="#8a8ab0" fill-opacity="0.33"/>
<circle cx="415.4" cy="545.9" r="0.45" fill="#8a8ab0" fill-opacity="0.35"/>
<circle cx="442.5" cy="546.6" r="0.48" fill="#8a8ab0" fill-opacity="0.28"/>
<circle cx="439.8" cy="531.6" r="0.54" fill="#8a8ab0" fill-opacity="0.30"/>
<circle cx="411.5" cy="498.1" r="0.47" fill="#8a8ab0" fill-opacity="0.29"/>
<circle cx="384.4" cy="490.2" r="0.43" fill="#8a8ab0" fill-opacity="0.28"/>
<circle cx="436.9" cy="526.2" r="0.42" fill="#8a8ab0" fill-opacity="0.24"/>
<circle cx="411.7" cy="475.1" r="0.40" fill="#8a8ab0" fill-opacity="0.36"/>
<circle cx="385.5" cy="498.8" r="0.51" fill="#8a8ab0" fill-opacity="0.27"/>
<circle cx="380.3" cy="517.9" r="0.55" fill="#8a8ab0" fill-opacity="0.32"/>
<circle cx="371.8" cy="502.6" r="0.60" fill="#8a8ab0" fill-opacity="0.35"/>
<circle cx="432.2" cy="518.4" r="0.67" fill="#8a8ab0" fill-opacity="0.21"/>
<circle cx="374.9" cy="521.5" r="0.76" fill="#8a8ab0" fill-opacity="0.30"/>
<circle cx="401.7" cy="542.2" r="0.74" fill="#8a8ab0" fill-opacity="0.20"/>
<circle cx="440.7" cy="504.9" r="0.50" fill="#8a8ab0" fill-opacity="0.21"/>
<circle cx="395.2" cy="504.4" r="0.42" fill="#8a8ab0" fill-opacity="0.23"/>
<circle cx="381.4" cy="550.6" r="0.64" fill="#8a8ab0" fill-opacity="0.14"/>
<circle cx="462.6" cy="486.2" r="0.59" fill="#8a8ab0" fill-opacity="0.26"/>
<circle cx="410.5" cy="497.4" r="0.57" fill="#8a8ab0" fill-opacity="0.17"/>
<circle cx="473.3" cy="477.3" r="0.73" fill="#8a8ab0" fill-opacity="0.19"/>
<circle cx="407.0" cy="508.6" r="0.41" fill="#8a8ab0" fill-opacity="0.17"/>
<circle cx="413.8" cy="514.7" r="0.75" fill="#8a8ab0" fill-opacity="0.36"/>
<circle cx="376.3" cy="525.3" r="0.45" fill="#8a8ab0" fill-opacity="0.32"/>
<circle cx="409.3" cy="565.9" r="0.62" fill="#8a8ab0" fill-opacity="0.17"/>
<circle cx="371.7" cy="492.7" r="0.75" fill="#8a8ab0" fill-opacity="0.18"/>
<circle cx="427.8" cy="506.7" r="0.54" fill="#8a8ab0" fill-opacity="0.32"/>
<circle cx="396.4" cy="546.1" r="0.67" fill="#8a8ab0" fill-opacity="0.35"/>
<circle cx="432.6" cy="569.0" r="0.58" fill="#8a8ab0" fill-opacity="0.27"/>
<circle cx="444.5" cy="559.8" r="0.76" fill="#8a8ab0" fill-opacity="0.17"/>
<circle cx="387.3" cy="525.1" r="0.72" fill="#8a8ab0" fill-opacity="0.26"/>
<circle cx="406.5" cy="573.7" r="0.52" fill="#8a8ab0" fill-opacity="0.16"/>
<circle cx="377.3" cy="468.0" r="0.69" fill="#8a8ab0" fill-opacity="0.17"/>
<circle cx="455.8" cy="562.8" r="0.80" fill="#8a8ab0" fill-opacity="0.32"/>
<circle cx="421.3" cy="535.1" r="0.73" fill="#8a8ab0" fill-opacity="0.30"/>
<circle cx="405.5" cy="551.0" r="0.44" fill="#8a8ab0" fill-opacity="0.21"/>
<circle cx="488.9" cy="518.0" r="0.51" fill="#8a8ab0" fill-opacity="0.31"/>
<circle cx="424.4" cy="465.0" r="0.41" fill="#8a8ab0" fill-opacity="0.20"/>
<circle cx="410.4" cy="570.9" r="0.50" fill="#8a8ab0" fill-opacity="0.33"/>
<circle cx="472.1" cy="511.8" r="0.80" fill="#8a8ab0" fill-opacity="0.31"/>
<circle cx="428.4" cy="494.2" r="0.58" fill="#8a8ab0" fill-opacity="0.34"/>
<circle cx="434.6" cy="486.6" r="0.55" fill="#8a8ab0" fill-opacity="0.25"/>
<circle cx="393.7" cy="529.6" r="0.41" fill="#8a8ab0" fill-opacity="0.32"/>
<circle cx="392.2" cy="476.3" r="0.64" fill="#8a8ab0" fill-opacity="0.21"/>
<circle cx="475.8" cy="521.0" r="0.61" fill="#8a8ab0" fill-opacity="0.32"/>
<circle cx="396.5" cy="549.1" r="0.66" fill="#8a8ab0" fill-opacity="0.24"/>
<circle cx="484.6" cy="467.1" r="0.74" fill="#8a8ab0" fill-opacity="0.17"/>
<circle cx="470.4" cy="482.0" r="0.42" fill="#8a8ab0" fill-opacity="0.25"/>
<circle cx="480.6" cy="493.8" r="0.59" fill="#8a8ab0" fill-opacity="0.28"/>
<circle cx="399.9" cy="524.7" r="0.40" fill="#8a8ab0" fill-opacity="0.24"/>
<circle cx="461.0" cy="503.1" r="0.49" fill="#8a8ab0" fill-opacity="0.15"/>
<circle cx="454.0" cy="513.0" r="0.77" fill="#8a8ab0" fill-opacity="0.30"/>
<circle cx="383.0" cy="568.3" r="0.77" fill="#8a8ab0" fill-opacity="0.32"/>
<circle cx="469.4" cy="541.9" r="0.69" fill="#8a8ab0" fill-opacity="0.29"/>
<circle cx="441.0" cy="493.8" r="0.45" fill="#8a8ab0" fill-opacity="0.30"/>
<circle cx="441.7" cy="471.0" r="0.66" fill="#8a8ab0" fill-opacity="0.28"/>
<circle cx="431.6" cy="552.5" r="0.75" fill="#8a8ab0" fill-opacity="0.23"/>
<circle cx="467.5" cy="521.2" r="0.63" fill="#8a8ab0" fill-opacity="0.23"/>
<circle cx="481.5" cy="515.0" r="0.78" fill="#8a8ab0" fill-opacity="0.22"/>
<circle cx="450.6" cy="568.1" r="0.67" fill="#8a8ab0" fill-opacity="0.23"/>
<circle cx="380.3" cy="518.8" r="0.57" fill="#8a8ab0" fill-opacity="0.32"/>
<circle cx="463.9" cy="576.4" r="0.58" fill="#8a8ab0" fill-opacity="0.23"/>
<circle cx="437.8" cy="549.6" r="0.43" fill="#8a8ab0" fill-opacity="0.19"/>
<circle cx="388.3" cy="501.4" r="0.52" fill="#8a8ab0" fill-opacity="0.35"/>
<circle cx="395.7" cy="570.5" r="0.52" fill="#8a8ab0" fill-opacity="0.19"/>
<circle cx="486.4" cy="474.7" r="0.45" fill="#8a8ab0" fill-opacity="0.17"/>
<circle cx="379.0" cy="508.4" r="0.48" fill="#8a8ab0" fill-opacity="0.18"/>
<circle cx="373.0" cy="543.8" r="0.42" fill="#8a8ab0" fill-opacity="0.19"/>
<circle cx="438.0" cy="564.8" r="0.66" fill="#8a8ab0" fill-opacity="0.30"/>
<circle cx="454.0" cy="555.0" r="0.74" fill="#8a8ab0" fill-opacity="0.18"/>
<circle cx="377.5" cy="535.0" r="0.61" fill="#8a8ab0" fill-opacity="0.26"/>
<circle cx="463.6" cy="484.4" r="0.68" fill="#8a8ab0" fill-opacity="0.24"/>
<circle cx="421.0" cy="492.3" r="0.51" fill="#8a8ab0" fill-opacity="0.27"/>
<circle cx="436.6" cy="567.4" r="0.51" fill="#8a8ab0" fill-opacity="0.30"/>
<circle cx="382.6" cy="538.5" r="0.46" fill="#8a8ab0" fill-opacity="0.33"/>
<circle cx="485.3" cy="493.4" r="0.72" fill="#8a8ab0" fill-opacity="0.19"/>
<circle cx="407.2" cy="476.3" r="0.58" fill="#8a8ab0" fill-opacity="0.17"/>
<circle cx="454.4" cy="529.9" r="0.57" fill="#8a8ab0" fill-opacity="0.30"/>
<circle cx="398.7" cy="502.2" r="0.55" fill="#8a8ab0" fill-opacity="0.14"/>
<circle cx="476.0" cy="474.6" r="0.44" fill="#8a8ab0" fill-opacity="0.32"/>
<circle cx="467.9" cy="515.3" r="0.57" fill="#8a8ab0" fill-opacity="0.17"/>
<circle cx="371.2" cy="523.6" r="0.50" fill="#8a8ab0" fill-opacity="0.18"/>
<circle cx="478.2" cy="466.8" r="0.54" fill="#8a8ab0" fill-opacity="0.31"/>
<circle cx="459.4" cy="476.7" r="0.70" fill="#8a8ab0" fill-opacity="0.27"/>
<circle cx="445.6" cy="571.6" r="0.72" fill="#8a8ab0" fill-opacity="0.27"/>
<circle cx="462.2" cy="520.4" r="0.62" fill="#8a8ab0" fill-opacity="0.32"/>
<circle cx="444.4" cy="507.3" r="0.41" fill="#8a8ab0" fill-opacity="0.31"/>
<circle cx="411.3" cy="513.3" r="0.52" fill="#8a8ab0" fill-opacity="0.26"/>
<circle cx="418.5" cy="559.2" r="0.64" fill="#8a8ab0" fill-opacity="0.26"/>
<circle cx="463.7" cy="514.5" r="0.61" fill="#8a8ab0" fill-opacity="0.31"/>
<circle cx="456.6" cy="548.9" r="0.76" fill="#8a8ab0" fill-opacity="0.26"/>
<circle cx="436.8" cy="486.0" r="0.50" fill="#8a8ab0" fill-opacity="0.24"/>
<circle cx="430.1" cy="566.6" r="0.42" fill="#8a8ab0" fill-opacity="0.22"/>
<circle cx="458.7" cy="516.6" r="0.74" fill="#8a8ab0" fill-opacity="0.18"/>
<circle cx="462.3" cy="513.5" r="0.63" fill="#8a8ab0" fill-opacity="0.16"/>
<circle cx="418.8" cy="555.6" r="0.69" fill="#8a8ab0" fill-opacity="0.27"/>
<circle cx="421.1" cy="469.0" r="0.68" fill="#8a8ab0" fill-opacity="0.24"/>
<circle cx="456.8" cy="534.0" r="0.56" fill="#8a8ab0" fill-opacity="0.33"/>
<circle cx="386.7" cy="573.4" r="0.43" fill="#8a8ab0" fill-opacity="0.35"/>
<circle cx="440.5" cy="515.4" r="0.77" fill="#8a8ab0" fill-opacity="0.25"/>
<circle cx="431.2" cy="471.4" r="0.72" fill="#8a8ab0" fill-opacity="0.28"/>
<circle cx="399.4" cy="477.5" r="0.57" fill="#8a8ab0" fill-opacity="0.35"/>
<circle cx="474.1" cy="517.4" r="0.41" fill="#8a8ab0" fill-opacity="0.32"/>
<circle cx="395.0" cy="547.5" r="0.60" fill="#8a8ab0" fill-opacity="0.35"/>
<circle cx="388.6" cy="554.6" r="0.69" fill="#8a8ab0" fill-opacity="0.15"/>
<circle cx="438.0" cy="498.0" r="0.68" fill="#8a8ab0" fill-opacity="0.35"/>
<circle cx="449.9" cy="520.6" r="0.64" fill="#8a8ab0" fill-opacity="0.20"/>
<circle cx="426.4" cy="477.8" r="0.69" fill="#8a8ab0" fill-opacity="0.16"/>
<circle cx="433.4" cy="485.0" r="0.63" fill="#8a8ab0" fill-opacity="0.16"/>
<circle cx="374.3" cy="535.5" r="0.69" fill="#8a8ab0" fill-opacity="0.34"/>
<circle cx="451.2" cy="577.5" r="0.46" fill="#8a8ab0" fill-opacity="0.28"/>
<circle cx="446.4" cy="484.5" r="0.46" fill="#8a8ab0" fill-opacity="0.20"/>
<circle cx="433.0" cy="553.9" r="0.68" fill="#8a8ab0" fill-opacity="0.27"/>
<circle cx="380.3" cy="546.5" r="0.60" fill="#8a8ab0" fill-opacity="0.18"/>
<circle cx="444.2" cy="492.5" r="0.52" fill="#8a8ab0" fill-opacity="0.24"/>
<circle cx="460.0" cy="476.7" r="0.58" fill="#8a8ab0" fill-opacity="0.19"/>
<circle cx="450.5" cy="557.1" r="0.51" fill="#8a8ab0" fill-opacity="0.30"/>
<circle cx="426.0" cy="489.3" r="0.51" fill="#8a8ab0" fill-opacity="0.26"/>
<circle cx="466.5" cy="532.8" r="0.40" fill="#8a8ab0" fill-opacity="0.31"/>
<circle cx="439.7" cy="512.5" r="0.50" fill="#8a8ab0" fill-opacity="0.24"/>
<circle cx="453.0" cy="495.3" r="0.46" fill="#8a8ab0" fill-opacity="0.33"/>
<circle cx="423.4" cy="472.6" r="0.76" fill="#8a8ab0" fill-opacity="0.17"/>
<circle cx="414.3" cy="534.8" r="0.67" fill="#8a8ab0" fill-opacity="0.34"/>
<circle cx="391.9" cy="529.2" r="0.75" fill="#8a8ab0" fill-opacity="0.24"/>
<circle cx="455.6" cy="517.5" r="0.69" fill="#8a8ab0" fill-opacity="0.35"/>
<circle cx="411.3" cy="548.2" r="0.54" fill="#8a8ab0" fill-opacity="0.34"/>
<circle cx="461.5" cy="561.9" r="0.75" fill="#8a8ab0" fill-opacity="0.27"/>
<circle cx="483.5" cy="482.2" r="0.63" fill="#8a8ab0" fill-opacity="0.16"/>
<circle cx="440.1" cy="542.5" r="0.51" fill="#8a8ab0" fill-opacity="0.32"/>
<circle cx="420.5" cy="487.0" r="0.48" fill="#8a8ab0" fill-opacity="0.27"/>
<circle cx="416.6" cy="469.9" r="0.52" fill="#8a8ab0" fill-opacity="0.35"/>
<circle cx="427.0" cy="542.1" r="0.57" fill="#8a8ab0" fill-opacity="0.16"/>
<circle cx="443.5" cy="488.4" r="0.45" fill="#8a8ab0" fill-opacity="0.28"/>
<circle cx="451.0" cy="465.8" r="0.78" fill="#8a8ab0" fill-opacity="0.15"/>
<circle cx="390.7" cy="501.9" r="0.72" fill="#8a8ab0" fill-opacity="0.30"/>
<circle cx="459.0" cy="513.3" r="0.76" fill="#8a8ab0" fill-opacity="0.17"/>
<circle cx="484.8" cy="470.3" r="0.46" fill="#8a8ab0" fill-opacity="0.31"/>
<circle cx="462.2" cy="540.9" r="0.50" fill="#8a8ab0" fill-opacity="0.33"/>
<circle cx="432.0" cy="488.0" r="0.44" fill="#8a8ab0" fill-opacity="0.36"/>
<circle cx="377.7" cy="489.5" r="0.54" fill="#8a8ab0" fill-opacity="0.34"/>
<circle cx="469.4" cy="560.0" r="0.65" fill="#8a8ab0" fill-opacity="0.15"/>
<circle cx="458.4" cy="486.2" r="0.78" fill="#8a8ab0" fill-opacity="0.35"/>
<circle cx="378.9" cy="547.5" r="0.50" fill="#8a8ab0" fill-opacity="0.17"/>
<circle cx="474.6" cy="514.8" r="0.52" fill="#8a8ab0" fill-opacity="0.26"/>
<circle cx="378.7" cy="512.7" r="0.66" fill="#8a8ab0" fill-opacity="0.33"/>
<circle cx="385.6" cy="566.0" r="0.44" fill="#8a8ab0" fill-opacity="0.19"/>
<circle cx="410.6" cy="483.8" r="0.44" fill="#8a8ab0" fill-opacity="0.29"/>
<circle cx="418.3" cy="486.1" r="0.61" fill="#8a8ab0" fill-opacity="0.17"/>
<circle cx="451.7" cy="573.9" r="0.59" fill="#8a8ab0" fill-opacity="0.24"/>
<circle cx="418.3" cy="506.2" r="0.57" fill="#8a8ab0" fill-opacity="0.18"/>
<circle cx="406.1" cy="542.9" r="0.59" fill="#8a8ab0" fill-opacity="0.16"/>
<circle cx="388.3" cy="560.0" r="0.54" fill="#8a8ab0" fill-opacity="0.32"/>
<circle cx="444.1" cy="535.5" r="0.54" fill="#8a8ab0" fill-opacity="0.27"/>
<circle cx="420.2" cy="523.2" r="0.78" fill="#8a8ab0" fill-opacity="0.17"/>
<circle cx="396.4" cy="567.0" r="0.77" fill="#8a8ab0" fill-opacity="0.32"/>
<circle cx="472.9" cy="476.4" r="0.69" fill="#8a8ab0" fill-opacity="0.17"/>
<circle cx="471.4" cy="509.5" r="0.60" fill="#8a8ab0" fill-opacity="0.26"/>
<circle cx="395.4" cy="528.8" r="0.74" fill="#8a8ab0" fill-opacity="0.24"/>
<circle cx="423.0" cy="506.2" r="0.48" fill="#8a8ab0" fill-opacity="0.21"/>
<circle cx="470.2" cy="574.0" r="0.55" fill="#8a8ab0" fill-opacity="0.21"/>
<circle cx="411.0" cy="562.5" r="0.50" fill="#8a8ab0" fill-opacity="0.18"/>
<circle cx="408.4" cy="474.4" r="0.46" fill="#8a8ab0" fill-opacity="0.19"/>
<circle cx="448.2" cy="570.0" r="0.50" fill="#8a8ab0" fill-opacity="0.21"/>
<circle cx="440.5" cy="468.0" r="0.44" fill="#8a8ab0" fill-opacity="0.27"/>
<circle cx="426.1" cy="504.4" r="0.57" fill="#8a8ab0" fill-opacity="0.15"/>
<circle cx="401.8" cy="484.7" r="0.50" fill="#8a8ab0" fill-opacity="0.16"/>
<circle cx="467.6" cy="466.4" r="0.57" fill="#8a8ab0" fill-opacity="0.18"/>
<circle cx="395.2" cy="550.7" r="0.78" fill="#8a8ab0" fill-opacity="0.35"/>
<circle cx="410.3" cy="526.0" r="0.57" fill="#8a8ab0" fill-opacity="0.16"/>
<circle cx="421.1" cy="533.9" r="0.56" fill="#8a8ab0" fill-opacity="0.31"/>
<circle cx="423.9" cy="497.9" r="0.76" fill="#8a8ab0" fill-opacity="0.27"/>
<circle cx="401.3" cy="567.1" r="0.59" fill="#8a8ab0" fill-opacity="0.27"/>
<circle cx="426.5" cy="562.0" r="0.69" fill="#8a8ab0" fill-opacity="0.24"/>
<circle cx="414.3" cy="552.2" r="0.73" fill="#8a8ab0" fill-opacity="0.27"/>
<circle cx="474.4" cy="524.4" r="0.57" fill="#8a8ab0" fill-opacity="0.21"/>
<circle cx="402.9" cy="482.0" r="0.77" fill="#8a8ab0" fill-opacity="0.26"/>
<circle cx="381.0" cy="488.3" r="0.57" fill="#8a8ab0" fill-opacity="0.32"/>
<circle cx="472.4" cy="550.7" r="0.52" fill="#8a8ab0" fill-opacity="0.24"/>
<circle cx="483.2" cy="508.6" r="0.66" fill="#8a8ab0" fill-opacity="0.15"/>
<circle cx="427.9" cy="522.0" r="0.76" fill="#8a8ab0" fill-opacity="0.35"/>
<circle cx="460.1" cy="502.2" r="0.75" fill="#8a8ab0" fill-opacity="0.34"/>
<circle cx="380.1" cy="512.8" r="0.62" fill="#8a8ab0" fill-opacity="0.21"/>
<circle cx="399.6" cy="553.6" r="0.48" fill="#8a8ab0" fill-opacity="0.26"/>
<circle cx="373.5" cy="517.0" r="0.79" fill="#8a8ab0" fill-opacity="0.14"/>
<circle cx="383.8" cy="566.7" r="0.77" fill="#8a8ab0" fill-opacity="0.25"/>
<circle cx="406.0" cy="498.4" r="0.69" fill="#8a8ab0" fill-opacity="0.27"/>
<circle cx="423.9" cy="543.0" r="0.44" fill="#8a8ab0" fill-opacity="0.23"/>
<circle cx="475.0" cy="568.0" r="0.59" fill="#8a8ab0" fill-opacity="0.31"/>
<circle cx="475.7" cy="523.7" r="0.46" fill="#8a8ab0" fill-opacity="0.17"/>
<circle cx="450.5" cy="503.3" r="0.61" fill="#8a8ab0" fill-opacity="0.15"/>
<circle cx="483.2" cy="496.1" r="0.65" fill="#8a8ab0" fill-opacity="0.28"/>
<circle cx="413.2" cy="488.3" r="0.62" fill="#8a8ab0" fill-opacity="0.21"/>
<circle cx="380.2" cy="484.6" r="0.42" fill="#8a8ab0" fill-opacity="0.34"/>
<circle cx="395.1" cy="568.9" r="0.65" fill="#8a8ab0" fill-opacity="0.35"/>
<circle cx="426.7" cy="493.5" r="0.43" fill="#8a8ab0" fill-opacity="0.28"/>
<circle cx="453.3" cy="541.6" r="0.76" fill="#8a8ab0" fill-opacity="0.17"/>
<circle cx="447.4" cy="544.4" r="0.78" fill="#8a8ab0" fill-opacity="0.20"/>
<circle cx="481.3" cy="467.5" r="0.64" fill="#8a8ab0" fill-opacity="0.21"/>
<circle cx="432.5" cy="484.4" r="0.55" fill="#8a8ab0" fill-opacity="0.22"/>
<circle cx="425.9" cy="510.6" r="0.49" fill="#8a8ab0" fill-opacity="0.18"/>
<circle cx="426.4" cy="577.0" r="0.74" fill="#8a8ab0" fill-opacity="0.18"/>
<circle cx="446.1" cy="481.2" r="0.53" fill="#8a8ab0" fill-opacity="0.36"/>
<circle cx="411.2" cy="476.2" r="0.62" fill="#8a8ab0" fill-opacity="0.27"/>
<circle cx="431.5" cy="572.0" r="0.61" fill="#8a8ab0" fill-opacity="0.22"/>
<circle cx="395.8" cy="530.5" r="0.70" fill="#8a8ab0" fill-opacity="0.25"/>
<circle cx="417.3" cy="493.1" r="0.74" fill="#8a8ab0" fill-opacity="0.36"/>
<circle cx="440.3" cy="545.2" r="0.53" fill="#8a8ab0" fill-opacity="0.18"/>
<circle cx="377.8" cy="534.6" r="0.77" fill="#8a8ab0" fill-opacity="0.29"/>
<circle cx="450.7" cy="562.0" r="0.56" fill="#8a8ab0" fill-opacity="0.24"/>
<circle cx="401.9" cy="558.9" r="0.68" fill="#8a8ab0" fill-opacity="0.26"/>
<circle cx="463.3" cy="568.1" r="0.42" fill="#8a8ab0" fill-opacity="0.19"/>
<circle cx="426.4" cy="545.6" r="0.50" fill="#8a8ab0" fill-opacity="0.24"/>
<circle cx="449.6" cy="497.9" r="0.67" fill="#8a8ab0" fill-opacity="0.16"/>
<circle cx="419.9" cy="537.0" r="0.75" fill="#8a8ab0" fill-opacity="0.25"/>
<circle cx="449.8" cy="539.9" r="0.66" fill="#8a8ab0" fill-opacity="0.24"/>
<circle cx="408.6" cy="479.1" r="0.75" fill="#8a8ab0" fill-opacity="0.31"/>
<circle cx="448.1" cy="550.0" r="0.53" fill="#8a8ab0" fill-opacity="0.18"/>
<circle cx="434.1" cy="517.6" r="0.66" fill="#8a8ab0" fill-opacity="0.33"/>
<circle cx="417.5" cy="507.0" r="0.68" fill="#8a8ab0" fill-opacity="0.33"/>
<circle cx="438.1" cy="532.0" r="0.76" fill="#8a8ab0" fill-opacity="0.34"/>
<circle cx="376.4" cy="575.0" r="0.44" fill="#8a8ab0" fill-opacity="0.26"/>
<circle cx="430.2" cy="575.6" r="0.49" fill="#8a8ab0" fill-opacity="0.15"/>
<circle cx="484.5" cy="516.4" r="0.58" fill="#8a8ab0" fill-opacity="0.24"/>
<circle cx="403.9" cy="467.9" r="0.62" fill="#8a8ab0" fill-opacity="0.19"/>
<circle cx="430.2" cy="577.5" r="0.79" fill="#8a8ab0" fill-opacity="0.21"/>
<circle cx="410.7" cy="478.4" r="0.64" fill="#8a8ab0" fill-opacity="0.18"/>
<circle cx="386.0" cy="568.4" r="0.62" fill="#8a8ab0" fill-opacity="0.34"/>
<circle cx="396.5" cy="484.6" r="0.63" fill="#8a8ab0" fill-opacity="0.29"/>
<circle cx="392.2" cy="521.5" r="0.62" fill="#8a8ab0" fill-opacity="0.25"/>
<circle cx="408.3" cy="515.3" r="0.44" fill="#8a8ab0" fill-opacity="0.17"/>
<circle cx="378.1" cy="559.1" r="0.50" fill="#8a8ab0" fill-opacity="0.29"/>
<circle cx="384.7" cy="564.8" r="0.41" fill="#8a8ab0" fill-opacity="0.32"/>
<circle cx="434.0" cy="567.6" r="0.76" fill="#8a8ab0" fill-opacity="0.15"/>
<circle cx="377.1" cy="492.9" r="0.42" fill="#8a8ab0" fill-opacity="0.33"/>
<circle cx="388.1" cy="541.3" r="0.78" fill="#8a8ab0" fill-opacity="0.30"/>
<circle cx="488.8" cy="538.1" r="0.56" fill="#8a8ab0" fill-opacity="0.35"/>
<circle cx="396.7" cy="527.5" r="0.57" fill="#8a8ab0" fill-opacity="0.26"/>
<circle cx="406.3" cy="573.5" r="0.80" fill="#8a8ab0" fill-opacity="0.29"/>
<circle cx="429.9" cy="572.4" r="0.78" fill="#8a8ab0" fill-opacity="0.15"/>
<circle cx="475.8" cy="476.9" r="0.44" fill="#8a8ab0" fill-opacity="0.20"/>
<circle cx="415.0" cy="519.5" r="0.78" fill="#8a8ab0" fill-opacity="0.18"/>
<circle cx="447.6" cy="521.7" r="0.45" fill="#8a8ab0" fill-opacity="0.36"/>
<circle cx="479.4" cy="503.8" r="0.75" fill="#8a8ab0" fill-opacity="0.24"/>
<circle cx="450.8" cy="569.8" r="0.66" fill="#8a8ab0" fill-opacity="0.22"/>
<circle cx="377.3" cy="517.5" r="0.63" fill="#8a8ab0" fill-opacity="0.20"/>
<circle cx="439.3" cy="466.4" r="0.50" fill="#8a8ab0" fill-opacity="0.25"/>
<circle cx="428.1" cy="544.7" r="0.49" fill="#8a8ab0" fill-opacity="0.20"/>
<circle cx="457.8" cy="496.7" r="0.46" fill="#8a8ab0" fill-opacity="0.28"/>
<circle cx="412.5" cy="531.4" r="0.79" fill="#8a8ab0" fill-opacity="0.35"/>
<circle cx="464.7" cy="574.9" r="0.72" fill="#8a8ab0" fill-opacity="0.22"/>
<circle cx="481.5" cy="478.9" r="0.48" fill="#8a8ab0" fill-opacity="0.25"/>
<circle cx="385.7" cy="533.0" r="0.62" fill="#8a8ab0" fill-opacity="0.19"/>
<circle cx="459.0" cy="474.1" r="0.60" fill="#8a8ab0" fill-opacity="0.20"/>
<circle cx="482.0" cy="481.0" r="0.55" fill="#8a8ab0" fill-opacity="0.30"/>
<circle cx="407.0" cy="558.5" r="0.45" fill="#8a8ab0" fill-opacity="0.16"/>
<circle cx="372.6" cy="527.7" r="0.59" fill="#8a8ab0" fill-opacity="0.26"/>
<circle cx="427.0" cy="564.1" r="0.49" fill="#8a8ab0" fill-opacity="0.18"/>
<circle cx="400.5" cy="559.1" r="0.72" fill="#8a8ab0" fill-opacity="0.17"/>
<circle cx="371.2" cy="576.8" r="0.79" fill="#8a8ab0" fill-opacity="0.20"/>
<circle cx="434.0" cy="469.9" r="0.60" fill="#8a8ab0" fill-opacity="0.18"/>
<circle cx="451.8" cy="482.2" r="0.63" fill="#8a8ab0" fill-opacity="0.22"/>
<circle cx="428.1" cy="572.3" r="0.61" fill="#8a8ab0" fill-opacity="0.35"/>
<circle cx="456.3" cy="490.3" r="0.50" fill="#8a8ab0" fill-opacity="0.32"/>
<circle cx="463.0" cy="480.9" r="0.72" fill="#8a8ab0" fill-opacity="0.21"/>
<circle cx="438.2" cy="565.8" r="0.77" fill="#8a8ab0" fill-opacity="0.18"/>
<circle cx="388.0" cy="494.8" r="0.64" fill="#8a8ab0" fill-opacity="0.35"/>
<circle cx="448.4" cy="551.1" r="0.73" fill="#8a8ab0" fill-opacity="0.25"/>
<circle cx="415.6" cy="555.1" r="0.65" fill="#8a8ab0" fill-opacity="0.33"/>
<circle cx="489.1" cy="517.4" r="0.54" fill="#8a8ab0" fill-opacity="0.17"/>
<circle cx="440.3" cy="500.4" r="0.53" fill="#8a8ab0" fill-opacity="0.25"/>
<circle cx="457.3" cy="541.8" r="0.58" fill="#8a8ab0" fill-opacity="0.28"/>
<circle cx="445.4" cy="568.2" r="0.67" fill="#8a8ab0" fill-opacity="0.33"/>
<circle cx="399.6" cy="561.1" r="0.40" fill="#8a8ab0" fill-opacity="0.32"/>
<circle cx="372.8" cy="533.7" r="0.51" fill="#8a8ab0" fill-opacity="0.18"/>
<circle cx="459.0" cy="480.2" r="0.67" fill="#8a8ab0" fill-opacity="0.16"/>
<circle cx="395.7" cy="509.5" r="0.63" fill="#8a8ab0" fill-opacity="0.29"/>
<circle cx="413.7" cy="562.8" r="0.41" fill="#8a8ab0" fill-opacity="0.19"/>
<circle cx="417.6" cy="534.0" r="0.66" fill="#8a8ab0" fill-opacity="0.34"/>
<circle cx="412.5" cy="537.3" r="0.68" fill="#8a8ab0" fill-opacity="0.18"/>
<circle cx="414.6" cy="514.8" r="0.64" fill="#8a8ab0" fill-opacity="0.26"/>
<circle cx="387.5" cy="487.7" r="0.53" fill="#8a8ab0" fill-opacity="0.16"/>
<circle cx="462.3" cy="566.2" r="0.69" fill="#8a8ab0" fill-opacity="0.19"/>
<circle cx="440.6" cy="468.2" r="0.48" fill="#8a8ab0" fill-opacity="0.20"/>
<circle cx="441.8" cy="530.6" r="0.62" fill="#8a8ab0" fill-opacity="0.18"/>
<circle cx="430.5" cy="549.4" r="0.75" fill="#8a8ab0" fill-opacity="0.22"/>
<circle cx="424.2" cy="563.3" r="0.42" fill="#8a8ab0" fill-opacity="0.27"/>
<circle cx="383.2" cy="555.8" r="0.67" fill="#8a8ab0" fill-opacity="0.16"/>
<circle cx="376.3" cy="571.3" r="0.52" fill="#8a8ab0" fill-opacity="0.27"/>
<circle cx="439.8" cy="508.0" r="0.44" fill="#8a8ab0" fill-opacity="0.30"/>
<circle cx="410.7" cy="513.1" r="0.72" fill="#8a8ab0" fill-opacity="0.35"/>
<circle cx="405.0" cy="502.4" r="0.71" fill="#8a8ab0" fill-opacity="0.24"/>
<circle cx="476.7" cy="506.9" r="0.42" fill="#8a8ab0" fill-opacity="0.21"/>
<circle cx="477.4" cy="530.2" r="0.79" fill="#8a8ab0" fill-opacity="0.32"/>
<circle cx="451.6" cy="484.9" r="0.57" fill="#8a8ab0" fill-opacity="0.15"/>
<circle cx="410.7" cy="489.4" r="0.77" fill="#8a8ab0" fill-opacity="0.18"/>
<circle cx="412.0" cy="467.2" r="0.46" fill="#8a8ab0" fill-opacity="0.29"/>
<circle cx="418.8" cy="521.9" r="0.73" fill="#8a8ab0" fill-opacity="0.29"/>
<circle cx="396.2" cy="549.3" r="0.67" fill="#8a8ab0" fill-opacity="0.27"/>
<circle cx="430.4" cy="568.4" r="0.64" fill="#8a8ab0" fill-opacity="0.16"/>
<circle cx="470.4" cy="539.4" r="0.51" fill="#8a8ab0" fill-opacity="0.31"/>
<circle cx="481.3" cy="547.8" r="0.59" fill="#8a8ab0" fill-opacity="0.32"/>
<circle cx="380.7" cy="470.6" r="0.56" fill="#8a8ab0" fill-opacity="0.26"/>
<circle cx="447.1" cy="539.2" r="0.61" fill="#8a8ab0" fill-opacity="0.22"/>
<circle cx="457.9" cy="527.9" r="0.48" fill="#8a8ab0" fill-opacity="0.27"/>
<circle cx="425.3" cy="554.6" r="0.68" fill="#8a8ab0" fill-opacity="0.36"/>
<circle cx="461.5" cy="522.7" r="0.67" fill="#8a8ab0" fill-opacity="0.21"/>
<circle cx="436.6" cy="577.0" r="0.45" fill="#8a8ab0" fill-opacity="0.24"/>
<circle cx="422.1" cy="545.6" r="0.48" fill="#8a8ab0" fill-opacity="0.29"/>
<circle cx="384.4" cy="573.8" r="0.43" fill="#8a8ab0" fill-opacity="0.28"/>
<circle cx="459.7" cy="527.4" r="0.51" fill="#8a8ab0" fill-opacity="0.22"/>
<circle cx="476.7" cy="516.6" r="0.62" fill="#8a8ab0" fill-opacity="0.35"/>
<circle cx="428.4" cy="556.9" r="0.64" fill="#8a8ab0" fill-opacity="0.32"/>
<circle cx="444.9" cy="479.8" r="0.49" fill="#8a8ab0" fill-opacity="0.20"/>
<circle cx="397.3" cy="531.7" r="0.57" fill="#8a8ab0" fill-opacity="0.22"/>
<circle cx="373.5" cy="576.5" r="0.59" fill="#8a8ab0" fill-opacity="0.19"/>
<circle cx="449.5" cy="474.9" r="0.46" fill="#8a8ab0" fill-opacity="0.35"/>
<circle cx="450.0" cy="505.2" r="0.45" fill="#8a8ab0" fill-opacity="0.30"/>
<circle cx="399.6" cy="501.7" r="0.51" fill="#8a8ab0" fill-opacity="0.28"/>
<circle cx="399.9" cy="470.8" r="0.74" fill="#8a8ab0" fill-opacity="0.26"/>
<circle cx="386.0" cy="471.8" r="0.76" fill="#8a8ab0" fill-opacity="0.25"/>
<circle cx="436.1" cy="566.7" r="0.41" fill="#8a8ab0" fill-opacity="0.17"/>
<circle cx="395.6" cy="543.9" r="0.45" fill="#8a8ab0" fill-opacity="0.27"/>
<circle cx="465.0" cy="510.1" r="0.67" fill="#8a8ab0" fill-opacity="0.15"/>
<circle cx="428.2" cy="507.0" r="0.67" fill="#8a8ab0" fill-opacity="0.23"/>
<circle cx="449.3" cy="566.5" r="0.77" fill="#8a8ab0" fill-opacity="0.32"/>
<circle cx="454.6" cy="573.7" r="0.57" fill="#8a8ab0" fill-opacity="0.15"/>
<circle cx="466.3" cy="505.4" r="0.53" fill="#8a8ab0" fill-opacity="0.35"/>
<circle cx="418.5" cy="479.7" r="0.76" fill="#8a8ab0" fill-opacity="0.14"/>
<circle cx="377.2" cy="544.0" r="0.47" fill="#8a8ab0" fill-opacity="0.30"/>
<circle cx="371.5" cy="497.7" r="0.56" fill="#8a8ab0" fill-opacity="0.28"/>
<circle cx="459.1" cy="541.4" r="0.48" fill="#8a8ab0" fill-opacity="0.33"/>
<circle cx="377.4" cy="514.5" r="0.42" fill="#8a8ab0" fill-opacity="0.31"/>
<circle cx="426.9" cy="514.4" r="0.77" fill="#8a8ab0" fill-opacity="0.20"/>
<circle cx="448.5" cy="543.7" r="0.43" fill="#8a8ab0" fill-opacity="0.31"/>
<circle cx="411.4" cy="547.5" r="0.70" fill="#8a8ab0" fill-opacity="0.22"/>
<circle cx="417.8" cy="511.2" r="0.44" fill="#8a8ab0" fill-opacity="0.27"/>
<circle cx="456.9" cy="573.4" r="0.58" fill="#8a8ab0" fill-opacity="0.26"/>
<circle cx="446.8" cy="551.1" r="0.67" fill="#8a8ab0" fill-opacity="0.35"/>
<circle cx="470.7" cy="574.0" r="0.58" fill="#8a8ab0" fill-opacity="0.26"/>
<circle cx="391.0" cy="522.8" r="0.60" fill="#8a8ab0" fill-opacity="0.22"/>
<circle cx="481.5" cy="564.2" r="0.73" fill="#8a8ab0" fill-opacity="0.21"/>
<circle cx="439.8" cy="561.7" r="0.56" fill="#8a8ab0" fill-opacity="0.27"/>
<circle cx="393.8" cy="571.3" r="0.63" fill="#8a8ab0" fill-opacity="0.24"/>
<circle cx="472.7" cy="495.3" r="0.61" fill="#8a8ab0" fill-opacity="0.23"/>
<circle cx="477.3" cy="521.3" r="0.78" fill="#8a8ab0" fill-opacity="0.32"/>
<circle cx="384.3" cy="531.1" r="0.60" fill="#8a8ab0" fill-opacity="0.18"/>
<circle cx="474.8" cy="557.3" r="0.79" fill="#8a8ab0" fill-opacity="0.25"/>
<circle cx="388.2" cy="538.8" r="0.74" fill="#8a8ab0" fill-opacity="0.20"/>
<circle cx="460.9" cy="519.3" r="0.55" fill="#8a8ab0" fill-opacity="0.36"/>
<circle cx="453.8" cy="574.6" r="0.71" fill="#8a8ab0" fill-opacity="0.32"/>
<circle cx="396.2" cy="549.1" r="0.44" fill="#8a8ab0" fill-opacity="0.31"/>
<circle cx="452.5" cy="509.9" r="0.63" fill="#8a8ab0" fill-opacity="0.35"/>
<circle cx="452.0" cy="498.3" r="0.79" fill="#8a8ab0" fill-opacity="0.31"/>
<circle cx="406.9" cy="511.9" r="0.54" fill="#8a8ab0" fill-opacity="0.24"/>
<circle cx="470.3" cy="507.7" r="0.78" fill="#8a8ab0" fill-opacity="0.21"/>
<circle cx="413.1" cy="498.0" r="0.72" fill="#8a8ab0" fill-opacity="0.17"/>
<circle cx="389.7" cy="556.5" r="0.70" fill="#8a8ab0" fill-opacity="0.18"/>
<circle cx="421.2" cy="471.3" r="0.74" fill="#8a8ab0" fill-opacity="0.33"/>
<circle cx="375.8" cy="553.6" r="0.50" fill="#8a8ab0" fill-opacity="0.36"/>
<circle cx="389.2" cy="571.8" r="0.52" fill="#8a8ab0" fill-opacity="0.26"/>
<circle cx="436.0" cy="554.8" r="0.54" fill="#8a8ab0" fill-opacity="0.31"/>
<circle cx="465.7" cy="539.3" r="0.42" fill="#8a8ab0" fill-opacity="0.24"/>
<circle cx="397.1" cy="577.5" r="0.57" fill="#8a8ab0" fill-opacity="0.33"/>
<circle cx="393.5" cy="466.6" r="1.25" fill="#d6ce58" fill-opacity="0.78"/>
<circle cx="426.1" cy="467.2" r="1.25" fill="#d6ce58" fill-opacity="0.78"/>
<circle cx="389.7" cy="480.5" r="1.25" fill="#d6ce58" fill-opacity="0.78"/>
<circle cx="396.3" cy="489.4" r="1.25" fill="#d6ce58" fill-opacity="0.78"/>
<circle cx="398.2" cy="486.6" r="1.25" fill="#d6ce58" fill-opacity="0.78"/>
<circle cx="424.2" cy="493.2" r="1.25" fill="#d6ce58" fill-opacity="0.78"/>
<circle cx="432.9" cy="490.4" r="1.25" fill="#d6ce58" fill-opacity="0.78"/>
<circle cx="461.4" cy="488.8" r="1.25" fill="#d6ce58" fill-opacity="0.78"/>
<circle cx="466.5" cy="490.0" r="1.25" fill="#d6ce58" fill-opacity="0.78"/>
<circle cx="486.5" cy="488.5" r="1.25" fill="#d6ce58" fill-opacity="0.78"/>
<circle cx="482.7" cy="476.1" r="1.25" fill="#d6ce58" fill-opacity="0.78"/>
<circle cx="431.8" cy="511.6" r="1.25" fill="#d6ce58" fill-opacity="0.78"/>
<circle cx="446.2" cy="522.6" r="1.25" fill="#d6ce58" fill-opacity="0.78"/>
<circle cx="480.8" cy="523.6" r="1.25" fill="#d6ce58" fill-opacity="0.78"/>
<circle cx="393.5" cy="524.5" r="1.25" fill="#d6ce58" fill-opacity="0.78"/>
<circle cx="412.4" cy="528.3" r="1.25" fill="#d6ce58" fill-opacity="0.78"/>
<circle cx="425.7" cy="538.8" r="1.25" fill="#d6ce58" fill-opacity="0.78"/>
<circle cx="451.4" cy="536.5" r="1.25" fill="#d6ce58" fill-opacity="0.78"/>
<circle cx="377.3" cy="557.2" r="1.25" fill="#d6ce58" fill-opacity="0.78"/>
<circle cx="443.8" cy="560.2" r="1.25" fill="#d6ce58" fill-opacity="0.78"/>
<circle cx="482.7" cy="556.8" r="1.25" fill="#d6ce58" fill-opacity="0.78"/>
</g></g>
<text x="377.70" y="476.90" font-size="9.1" text-anchor="start" font-weight="normal" fill="#f4f4f4" >CD3</text>
<line x1="375.40" y1="572.50" x2="396.90" y2="572.50" stroke="#fff" stroke-width="1.5" />
<rect x="591.30" y="387.24" width="30.70" height="153.76" fill="#fff" stroke="#000" stroke-width="1.3" />
<rect x="638.30" y="511.82" width="30.10" height="29.18" fill="#d3d0f8" stroke="#000" stroke-width="1.3" />
<line x1="575.00" y1="352.15" x2="575.00" y2="541.80" stroke="#000" stroke-width="1.6" />
<line x1="574.20" y1="541.00" x2="676.00" y2="541.00" stroke="#000" stroke-width="1.6" />
<line x1="570.00" y1="352.72" x2="575.00" y2="352.72" stroke="#000" stroke-width="1.5" />
<text x="567.60" y="357.37" font-size="13.0" text-anchor="end" font-weight="bold" fill="#000" >60</text>
<line x1="570.00" y1="415.48" x2="575.00" y2="415.48" stroke="#000" stroke-width="1.5" />
<text x="567.60" y="420.13" font-size="13.0" text-anchor="end" font-weight="bold" fill="#000" >40</text>
<line x1="570.00" y1="478.24" x2="575.00" y2="478.24" stroke="#000" stroke-width="1.5" />
<text x="567.60" y="482.89" font-size="13.0" text-anchor="end" font-weight="bold" fill="#000" >20</text>
<circle cx="606.40" cy="365.60" r="2.6" fill="#000" stroke="none" stroke-width="0"/>
<circle cx="606.40" cy="407.80" r="2.6" fill="#000" stroke="none" stroke-width="0"/>
<circle cx="648.30" cy="513.50" r="2.6" fill="#000" stroke="none" stroke-width="0"/>
<circle cx="658.80" cy="509.70" r="2.6" fill="#000" stroke="none" stroke-width="0"/>
<text transform="translate(528.50,444.20) rotate(-90)" font-size="12.35" text-anchor="middle" font-weight="normal">Average CD8+ T cells per field</text>
<text transform="translate(542.00,445.00) rotate(-90)" font-size="12.35" text-anchor="middle" font-weight="normal">IHC quantification</text>
<text transform="translate(605.3,551.0) rotate(-46)" font-size="12.3" text-anchor="end">PyMT</text>
<text transform="translate(625.0,553.0) rotate(-46)" font-size="12.3" text-anchor="end">PCBP1+/+</text>
<text transform="translate(652.0,551.4) rotate(-46)" font-size="12.3" text-anchor="end">PyMT</text>
<text transform="translate(669.6,555.4) rotate(-46)" font-size="12.3" text-anchor="end">PCBP1-/-</text>
<line x1="40.90" y1="677.20" x2="40.90" y2="879.60" stroke="#000" stroke-width="1.65" />
<line x1="40.10" y1="878.80" x2="138.30" y2="878.80" stroke="#000" stroke-width="1.65" />
<line x1="36.00" y1="677.90" x2="40.90" y2="677.90" stroke="#000" stroke-width="1.5" />
<text x="34.70" y="683.55" font-size="15.8" text-anchor="end" font-weight="bold" fill="#000" >15</text>
<line x1="36.00" y1="744.90" x2="40.90" y2="744.90" stroke="#000" stroke-width="1.5" />
<text x="34.70" y="750.55" font-size="15.8" text-anchor="end" font-weight="bold" fill="#000" >10</text>
<line x1="36.00" y1="811.90" x2="40.90" y2="811.90" stroke="#000" stroke-width="1.5" />
<text x="34.70" y="817.55" font-size="15.8" text-anchor="end" font-weight="bold" fill="#000" >5</text>
<text transform="translate(10.20,782.70) rotate(-90)" font-size="12.55" text-anchor="middle" font-weight="normal">CXCL9 Normalized CPM</text>
<line x1="68.40" y1="799.20" x2="68.40" y2="840.80" stroke="#111" stroke-width="1.15" />
<line x1="61.10" y1="799.20" x2="75.70" y2="799.20" stroke="#111" stroke-width="1.15" />
<line x1="61.10" y1="840.80" x2="75.70" y2="840.80" stroke="#111" stroke-width="1.15" />
<line x1="54.80" y1="820.00" x2="82.00" y2="820.00" stroke="#000" stroke-width="1.4" />
<circle cx="68.40" cy="741.70" r="2.85" fill="none" stroke="#000" stroke-width="1.4"/>
<circle cx="68.40" cy="822.60" r="2.85" fill="none" stroke="#000" stroke-width="1.4"/>
<circle cx="62.40" cy="832.40" r="2.85" fill="none" stroke="#000" stroke-width="1.4"/>
<circle cx="74.70" cy="835.70" r="2.85" fill="none" stroke="#000" stroke-width="1.4"/>
<circle cx="68.40" cy="867.00" r="2.85" fill="none" stroke="#000" stroke-width="1.4"/>
<line x1="110.60" y1="854.10" x2="110.60" y2="864.40" stroke="#111" stroke-width="1.15" />
<line x1="103.80" y1="854.10" x2="117.40" y2="854.10" stroke="#111" stroke-width="1.15" />
<line x1="103.80" y1="864.40" x2="117.40" y2="864.40" stroke="#111" stroke-width="1.15" />
<line x1="96.80" y1="859.50" x2="124.40" y2="859.50" stroke="#000" stroke-width="1.4" />
<circle cx="121.50" cy="842.20" r="2.85" fill="#d3d0f8" stroke="#000" stroke-width="1.4"/>
<circle cx="110.50" cy="848.00" r="2.85" fill="#d3d0f8" stroke="#000" stroke-width="1.4"/>
<circle cx="110.50" cy="857.60" r="2.85" fill="#d3d0f8" stroke="#000" stroke-width="1.4"/>
<circle cx="99.70" cy="869.80" r="2.85" fill="#d3d0f8" stroke="#000" stroke-width="1.4"/>
<circle cx="110.50" cy="867.90" r="2.85" fill="#d3d0f8" stroke="#000" stroke-width="1.4"/>
<circle cx="121.50" cy="869.80" r="2.85" fill="#d3d0f8" stroke="#000" stroke-width="1.4"/>
<path d="M68.4,727.6 V722.2 H109.3 V727.6" fill="none" stroke="#000" stroke-width="1.5"/>
<text x="89.00" y="723.10" font-size="15" text-anchor="middle" font-weight="bold" fill="#000" >*</text>
<text x="63.00" y="894.30" font-size="12.3" text-anchor="middle" font-weight="normal" fill="#000" >PyMT</text>
<text x="62.00" y="908.00" font-size="12.3" text-anchor="middle" font-weight="normal" fill="#000" >PCBP1+/+</text>
<text x="126.00" y="894.30" font-size="12.3" text-anchor="middle" font-weight="normal" fill="#000" >PyMT</text>
<text x="126.40" y="908.00" font-size="12.3" text-anchor="middle" font-weight="normal" fill="#000" >PCBP1–/–</text>
<line x1="197.90" y1="676.40" x2="197.90" y2="879.80" stroke="#000" stroke-width="1.65" />
<line x1="197.10" y1="879.00" x2="296.00" y2="879.00" stroke="#000" stroke-width="1.65" />
<line x1="193.00" y1="677.60" x2="197.90" y2="677.60" stroke="#000" stroke-width="1.5" />
<text x="192.00" y="683.50" font-size="16.5" text-anchor="end" font-weight="bold" fill="#000" >6</text>
<line x1="193.00" y1="744.60" x2="197.90" y2="744.60" stroke="#000" stroke-width="1.5" />
<text x="192.00" y="750.50" font-size="16.5" text-anchor="end" font-weight="bold" fill="#000" >4</text>
<line x1="193.00" y1="811.60" x2="197.90" y2="811.60" stroke="#000" stroke-width="1.5" />
<text x="192.00" y="817.50" font-size="16.5" text-anchor="end" font-weight="bold" fill="#000" >2</text>
<text transform="translate(169.30,777.50) rotate(-90)" font-size="12.55" text-anchor="middle" font-weight="normal">CXCL10 Normalized CPM</text>
<line x1="225.90" y1="738.40" x2="225.90" y2="793.20" stroke="#111" stroke-width="1.15" />
<line x1="218.60" y1="738.40" x2="233.20" y2="738.40" stroke="#111" stroke-width="1.15" />
<line x1="218.60" y1="793.20" x2="233.20" y2="793.20" stroke="#111" stroke-width="1.15" />
<line x1="211.90" y1="765.30" x2="239.90" y2="765.30" stroke="#000" stroke-width="1.4" />
<circle cx="225.90" cy="687.50" r="2.85" fill="none" stroke="#000" stroke-width="1.4"/>
<circle cx="225.90" cy="738.90" r="2.85" fill="none" stroke="#000" stroke-width="1.4"/>
<circle cx="225.90" cy="769.20" r="2.85" fill="none" stroke="#000" stroke-width="1.4"/>
<circle cx="225.90" cy="777.40" r="2.85" fill="none" stroke="#000" stroke-width="1.4"/>
<circle cx="225.90" cy="855.30" r="2.85" fill="none" stroke="#000" stroke-width="1.4"/>
<line x1="268.00" y1="823.30" x2="268.00" y2="838.50" stroke="#111" stroke-width="1.15" />
<line x1="260.80" y1="823.30" x2="275.20" y2="823.30" stroke="#111" stroke-width="1.15" />
<line x1="260.80" y1="838.50" x2="275.20" y2="838.50" stroke="#111" stroke-width="1.15" />
<line x1="254.00" y1="830.80" x2="282.00" y2="830.80" stroke="#000" stroke-width="1.4" />
<circle cx="268.00" cy="802.00" r="2.85" fill="#d3d0f8" stroke="#000" stroke-width="1.4"/>
<circle cx="268.00" cy="814.00" r="2.85" fill="#d3d0f8" stroke="#000" stroke-width="1.4"/>
<circle cx="268.00" cy="836.40" r="2.85" fill="#d3d0f8" stroke="#000" stroke-width="1.4"/>
<circle cx="268.00" cy="842.20" r="2.85" fill="#d3d0f8" stroke="#000" stroke-width="1.4"/>
<circle cx="256.70" cy="846.40" r="2.85" fill="#d3d0f8" stroke="#000" stroke-width="1.4"/>
<circle cx="278.90" cy="845.70" r="2.85" fill="#d3d0f8" stroke="#000" stroke-width="1.4"/>
<path d="M225.9,681.2 V675.4 H268 V681.2" fill="none" stroke="#000" stroke-width="1.5"/>
<text x="245.10" y="674.30" font-size="15" text-anchor="middle" font-weight="bold" fill="#000" >*</text>
<text x="218.10" y="895.00" font-size="12.3" text-anchor="middle" font-weight="normal" fill="#000" >PyMT</text>
<text x="217.70" y="908.70" font-size="12.3" text-anchor="middle" font-weight="normal" fill="#000" >PCBP1+/+</text>
<text x="282.90" y="895.00" font-size="12.3" text-anchor="middle" font-weight="normal" fill="#000" >PyMT</text>
<text x="282.40" y="908.70" font-size="12.3" text-anchor="middle" font-weight="normal" fill="#000" >PCBP1–/–</text>
<rect x="338.50" y="624.70" width="14.00" height="11.80" fill="#fff" stroke="#1c2a57" stroke-width="1.15" />
<rect x="338.50" y="642.70" width="14.00" height="11.70" fill="#b3c7ec" stroke="#1c2a57" stroke-width="1.15" />
<rect x="338.50" y="660.90" width="14.00" height="11.90" fill="#c3c3c3" stroke="#1c2a57" stroke-width="1.15" />
<text x="356.90" y="634.80" font-size="12.2" text-anchor="start" font-weight="normal" fill="#000" >PCBP1</text>
<text x="397.30" y="631.40" font-size="7.6" text-anchor="start" font-weight="normal" fill="#000" >+/+</text>
<text x="355.70" y="652.00" font-size="12.2" text-anchor="start" font-weight="normal" fill="#000" >PCBP1</text>
<text x="396.20" y="648.40" font-size="7.4" text-anchor="start" font-weight="normal" fill="#000" >−/−</text>
<text x="355.70" y="669.80" font-size="12.2" text-anchor="start" font-weight="normal" fill="#000" >PCBP1</text>
<text x="396.20" y="666.20" font-size="7.0" text-anchor="start" font-weight="normal" fill="#000" >−/−</text>
<text x="408.30" y="669.80" font-size="11.85" text-anchor="start" font-weight="normal" fill="#000" >V5-PCBP1</text>
<rect x="367.30" y="820.80" width="18.90" height="57.30" fill="#fff" stroke="#000" stroke-width="1.25" />
<rect x="397.70" y="849.40" width="18.20" height="28.70" fill="#d3d0f8" stroke="#000" stroke-width="1.25" />
<rect x="427.60" y="717.70" width="19.40" height="160.40" fill="#c8c8c8" stroke="#000" stroke-width="1.2" />
<rect x="425.00" y="757.40" width="25.00" height="9.20" fill="#fff" stroke="none" stroke-width="1" />
<line x1="356.40" y1="707.55" x2="356.40" y2="756.00" stroke="#000" stroke-width="1.3" />
<line x1="356.40" y1="768.20" x2="356.40" y2="878.70" stroke="#000" stroke-width="1.3" />
<line x1="353.00" y1="753.00" x2="359.90" y2="759.60" stroke="#000" stroke-width="1.2" />
<line x1="353.00" y1="763.40" x2="359.90" y2="769.90" stroke="#000" stroke-width="1.2" />
<line x1="355.80" y1="878.10" x2="458.10" y2="878.10" stroke="#000" stroke-width="1.3" />
<line x1="350.20" y1="708.30" x2="356.40" y2="708.30" stroke="#000" stroke-width="1.3" />
<text x="348.60" y="712.35" font-size="11.4" text-anchor="end" font-weight="bold" fill="#000" >7</text>
<line x1="350.20" y1="732.40" x2="356.40" y2="732.40" stroke="#000" stroke-width="1.3" />
<text x="348.60" y="736.45" font-size="11.4" text-anchor="end" font-weight="bold" fill="#000" >6</text>
<line x1="353.00" y1="720.35" x2="356.40" y2="720.35" stroke="#000" stroke-width="1.2" />
<line x1="353.00" y1="744.45" x2="356.40" y2="744.45" stroke="#000" stroke-width="1.2" />
<text x="348.60" y="760.70" font-size="11.4" text-anchor="end" font-weight="bold" fill="#000" >5</text>
<text x="348.60" y="770.80" font-size="11.4" text-anchor="end" font-weight="bold" fill="#000" >2</text>
<line x1="351.60" y1="822.60" x2="356.40" y2="822.60" stroke="#000" stroke-width="1.3" />
<text x="349.60" y="826.65" font-size="11.4" text-anchor="end" font-weight="bold" fill="#000" >1</text>
<line x1="353.40" y1="794.85" x2="356.40" y2="794.85" stroke="#000" stroke-width="1.2" />
<line x1="353.40" y1="850.35" x2="356.40" y2="850.35" stroke="#000" stroke-width="1.2" />
<text transform="translate(332.30,790.00) rotate(-90)" font-size="12.3" text-anchor="middle" font-weight="normal">CXCL10 Expression (F.C.)</text>
<line x1="376.70" y1="813.10" x2="376.70" y2="827.50" stroke="#000" stroke-width="1.2" />
<line x1="371.30" y1="813.10" x2="382.10" y2="813.10" stroke="#000" stroke-width="1.2" />
<line x1="371.30" y1="827.50" x2="382.10" y2="827.50" stroke="#000" stroke-width="1.2" />
<circle cx="376.70" cy="786.20" r="2.45" fill="#000"/>
<circle cx="376.70" cy="804.80" r="2.45" fill="#000"/>
<circle cx="371.50" cy="822.50" r="2.45" fill="#000"/>
<circle cx="381.30" cy="824.60" r="2.45" fill="#000"/>
<circle cx="371.50" cy="828.60" r="2.45" fill="#000"/>
<circle cx="376.70" cy="833.60" r="2.45" fill="#000"/>
<circle cx="376.70" cy="842.50" r="2.45" fill="#000"/>
<line x1="406.70" y1="843.90" x2="406.70" y2="854.60" stroke="#000" stroke-width="1.2" />
<line x1="401.40" y1="843.90" x2="412.00" y2="843.90" stroke="#000" stroke-width="1.2" />
<line x1="401.40" y1="854.60" x2="412.00" y2="854.60" stroke="#000" stroke-width="1.2" />
<circle cx="406.70" cy="825.40" r="2.45" fill="#000"/>
<circle cx="402.10" cy="845.30" r="2.45" fill="#000"/>
<circle cx="411.70" cy="849.70" r="2.45" fill="#000"/>
<circle cx="402.10" cy="855.20" r="2.45" fill="#000"/>
<circle cx="411.70" cy="855.40" r="2.45" fill="#000"/>
<circle cx="406.70" cy="861.50" r="2.45" fill="#000"/>
<line x1="437.50" y1="712.00" x2="437.50" y2="723.20" stroke="#000" stroke-width="1.2" />
<line x1="431.50" y1="712.00" x2="443.50" y2="712.00" stroke="#000" stroke-width="1.2" />
<line x1="431.50" y1="723.20" x2="443.50" y2="723.20" stroke="#000" stroke-width="1.2" />
<circle cx="433.10" cy="709.30" r="2.45" fill="#000"/>
<circle cx="442.00" cy="713.50" r="2.45" fill="#000"/>
<circle cx="437.30" cy="728.70" r="2.45" fill="#000"/>
<path d="M376.7,779.6 V695.6 H436.8 V705.7" fill="none" stroke="#000" stroke-width="1.35"/>
<path d="M376.7,775.2 H406.7 V818.8" fill="none" stroke="#000" stroke-width="1.35"/>
<text x="406.80" y="695.30" font-size="13.4" text-anchor="middle" font-weight="bold" fill="#000" >****</text>
<text x="392.10" y="775.30" font-size="15" text-anchor="middle" font-weight="bold" fill="#000" >**</text>
<text x="409.60" y="895.90" font-size="12.3" text-anchor="middle" font-weight="normal" fill="#000" text-decoration="underline">Py8119</text>
<rect x="539.85" y="806.10" width="19.30" height="61.30" fill="#fff" stroke="#000" stroke-width="1.3" />
<rect x="570.85" y="836.40" width="19.60" height="31.00" fill="#d3d0f8" stroke="#000" stroke-width="1.3" />
<rect x="622.80" y="711.95" width="19.70" height="155.45" fill="#fff" stroke="#000" stroke-width="1.2" />
<rect x="654.20" y="715.01" width="19.80" height="152.39" fill="#d3d0f8" stroke="#000" stroke-width="1.2" />
<rect x="618.00" y="737.60" width="62.00" height="9.80" fill="#fff" stroke="none" stroke-width="1" />
<line x1="528.60" y1="685.55" x2="528.60" y2="736.60" stroke="#000" stroke-width="1.35" />
<line x1="528.60" y1="748.40" x2="528.60" y2="868.00" stroke="#000" stroke-width="1.35" />
<line x1="525.00" y1="733.80" x2="532.10" y2="740.70" stroke="#000" stroke-width="1.2" />
<line x1="525.00" y1="744.70" x2="532.10" y2="751.60" stroke="#000" stroke-width="1.2" />
<line x1="528.00" y1="867.40" x2="685.00" y2="867.40" stroke="#000" stroke-width="1.35" />
<line x1="521.50" y1="686.20" x2="528.60" y2="686.20" stroke="#000" stroke-width="1.3" />
<text x="519.60" y="690.70" font-size="12.7" text-anchor="end" font-weight="bold" fill="#000" >30</text>
<line x1="521.50" y1="703.25" x2="528.60" y2="703.25" stroke="#000" stroke-width="1.3" />
<text x="519.60" y="707.75" font-size="12.7" text-anchor="end" font-weight="bold" fill="#000" >25</text>
<line x1="521.50" y1="720.30" x2="528.60" y2="720.30" stroke="#000" stroke-width="1.3" />
<text x="519.60" y="724.80" font-size="12.7" text-anchor="end" font-weight="bold" fill="#000" >20</text>
<text x="520.80" y="752.90" font-size="12.7" text-anchor="end" font-weight="bold" fill="#000" >2.0</text>
<line x1="521.50" y1="778.30" x2="528.60" y2="778.30" stroke="#000" stroke-width="1.3" />
<text x="520.80" y="782.80" font-size="12.7" text-anchor="end" font-weight="bold" fill="#000" >1.5</text>
<line x1="521.50" y1="808.20" x2="528.60" y2="808.20" stroke="#000" stroke-width="1.3" />
<text x="520.80" y="812.70" font-size="12.7" text-anchor="end" font-weight="bold" fill="#000" >1.0</text>
<line x1="525.00" y1="763.35" x2="528.60" y2="763.35" stroke="#000" stroke-width="1.2" />
<line x1="525.00" y1="793.25" x2="528.60" y2="793.25" stroke="#000" stroke-width="1.2" />
<line x1="525.00" y1="823.15" x2="528.60" y2="823.15" stroke="#000" stroke-width="1.2" />
<text transform="translate(494.50,777.50) rotate(-90)" font-size="12.3" text-anchor="middle" font-weight="normal">CXCL10 Expression (F.C.)</text>
<line x1="549.40" y1="798.10" x2="549.40" y2="812.90" stroke="#000" stroke-width="1.2" />
<line x1="543.70" y1="798.10" x2="555.10" y2="798.10" stroke="#000" stroke-width="1.2" />
<line x1="543.70" y1="812.90" x2="555.10" y2="812.90" stroke="#000" stroke-width="1.2" />
<circle cx="549.40" cy="769.00" r="2.45" fill="#000"/>
<circle cx="549.40" cy="788.90" r="2.45" fill="#000"/>
<circle cx="544.30" cy="807.60" r="2.45" fill="#000"/>
<circle cx="554.50" cy="809.90" r="2.45" fill="#000"/>
<circle cx="544.30" cy="814.20" r="2.45" fill="#000"/>
<circle cx="549.40" cy="819.50" r="2.45" fill="#000"/>
<circle cx="549.40" cy="829.00" r="2.45" fill="#000"/>
<line x1="580.40" y1="830.30" x2="580.40" y2="841.80" stroke="#000" stroke-width="1.2" />
<line x1="574.50" y1="830.30" x2="586.30" y2="830.30" stroke="#000" stroke-width="1.2" />
<line x1="574.50" y1="841.80" x2="586.30" y2="841.80" stroke="#000" stroke-width="1.2" />
<circle cx="580.40" cy="811.00" r="2.45" fill="#000"/>
<circle cx="575.50" cy="832.60" r="2.45" fill="#000"/>
<circle cx="585.70" cy="836.70" r="2.45" fill="#000"/>
<circle cx="575.50" cy="842.80" r="2.45" fill="#000"/>
<circle cx="585.70" cy="843.40" r="2.45" fill="#000"/>
<circle cx="580.40" cy="849.50" r="2.45" fill="#000"/>
<line x1="632.60" y1="707.70" x2="632.60" y2="716.90" stroke="#000" stroke-width="1.2" />
<line x1="627.10" y1="707.70" x2="638.10" y2="707.70" stroke="#000" stroke-width="1.2" />
<line x1="627.10" y1="716.90" x2="638.10" y2="716.90" stroke="#000" stroke-width="1.2" />
<circle cx="632.40" cy="698.20" r="2.45" fill="#000"/>
<circle cx="627.30" cy="713.40" r="2.45" fill="#000"/>
<circle cx="627.40" cy="718.20" r="2.45" fill="#000"/>
<circle cx="637.50" cy="718.20" r="2.45" fill="#000"/>
<line x1="664.10" y1="706.40" x2="664.10" y2="724.30" stroke="#000" stroke-width="1.2" />
<line x1="658.70" y1="706.40" x2="669.50" y2="706.40" stroke="#000" stroke-width="1.2" />
<line x1="658.70" y1="724.30" x2="669.50" y2="724.30" stroke="#000" stroke-width="1.2" />
<circle cx="664.10" cy="699.80" r="2.45" fill="#000"/>
<circle cx="664.10" cy="714.20" r="2.45" fill="#000"/>
<circle cx="664.10" cy="731.20" r="2.45" fill="#000"/>
<path d="M549.4,762.4 V685.7 H632.8 V692.0" fill="none" stroke="#000" stroke-width="1.35"/>
<path d="M549.4,751.6 H580.4 V807.1" fill="none" stroke="#000" stroke-width="1.35"/>
<text x="591.00" y="685.20" font-size="13.8" text-anchor="middle" font-weight="bold" fill="#000" >****</text>
<text x="565.20" y="751.60" font-size="15.3" text-anchor="middle" font-weight="bold" fill="#000" >**</text>
<text x="499.50" y="880.80" font-size="12.3" text-anchor="start" font-weight="normal" fill="#000" >IFN-<tspan font-family='"Liberation Serif", "DejaVu Serif", serif'>β</tspan>:</text>
<text x="564.50" y="880.80" font-size="12.3" text-anchor="middle" font-weight="normal" fill="#000" >vehicle</text>
<text x="649.50" y="880.80" font-size="12.3" text-anchor="middle" font-weight="normal" fill="#000" >85 ng/ml</text>
<text x="606.00" y="896.30" font-size="12.3" text-anchor="middle" font-weight="normal" fill="#000" text-decoration="underline">Py8119</text>
</svg></body></html>
